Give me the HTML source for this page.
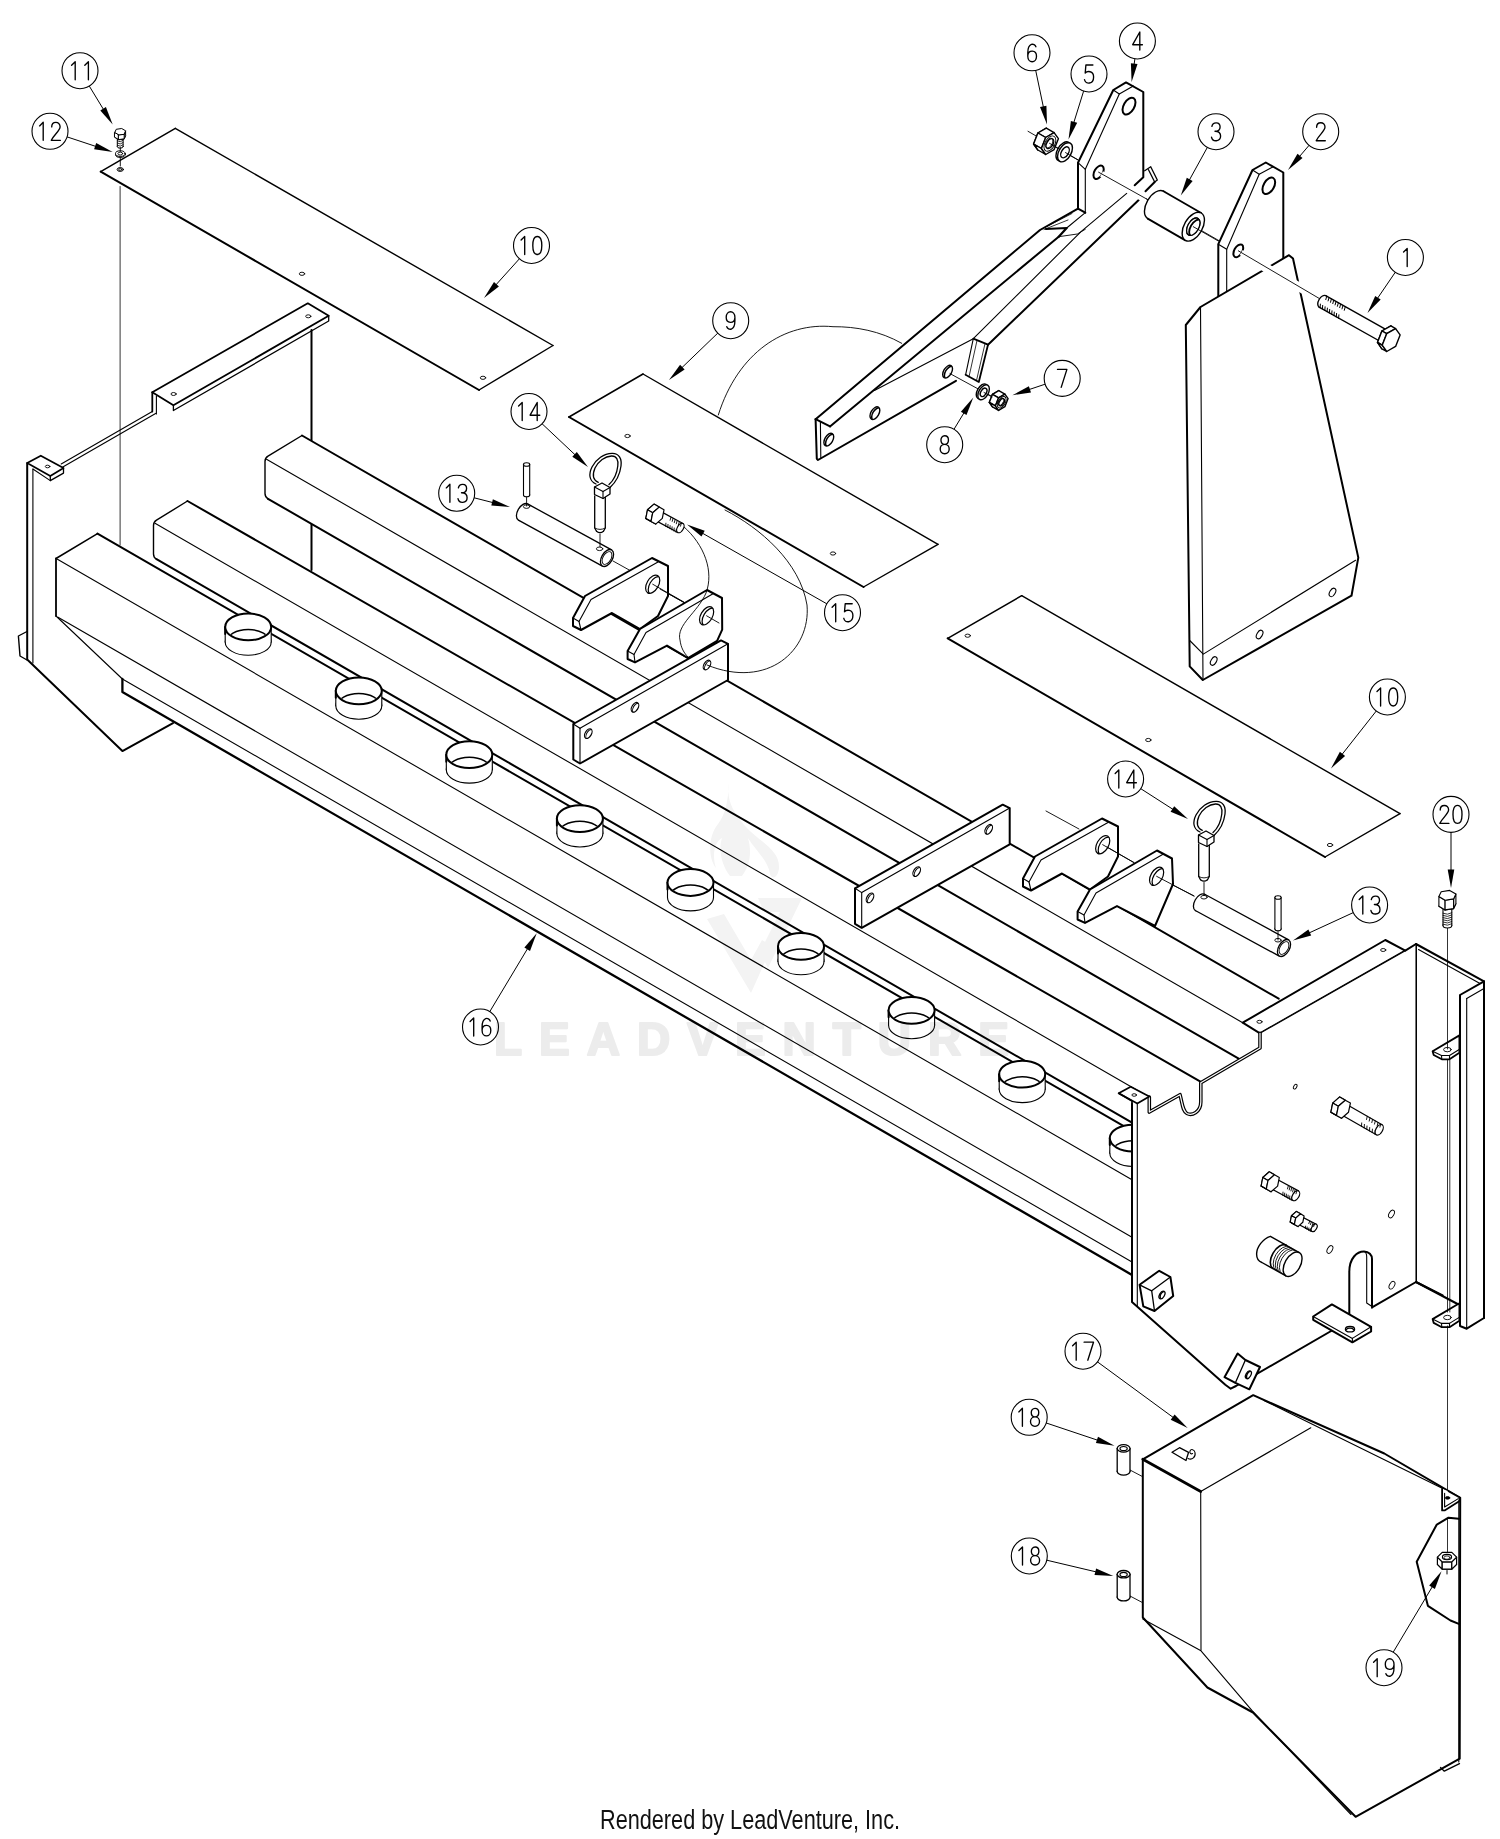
<!DOCTYPE html>
<html><head><meta charset="utf-8"><title>Parts Diagram</title>
<style>html,body{margin:0;padding:0;background:#fff}body{width:1500px;height:1839px;overflow:hidden;font-family:"Liberation Sans",sans-serif}svg{display:block}</style></head>
<body>
<svg width="1500" height="1839" viewBox="0 0 1500 1839" stroke="#000" fill="none" stroke-linecap="round" stroke-linejoin="round">
<path d="M27.2,463.1 L27.2,659.5 L122.4,751 L173,723" stroke-width="2" fill="none"/>
<path d="M32.9,469 L32.9,663" stroke-width="1.1" fill="none"/>
<path d="M27,631.5 L18.4,636 L20,656 L27,660" stroke-width="1.4" fill="none"/>
<path d="M311.5,330 L311.5,570" stroke-width="2" fill="none"/>
<path d="M61.2,464 L152.3,411.5" stroke-width="1.1" fill="none"/>
<path d="M62.8,466.9 L155.6,413.4" stroke-width="1.1" fill="none"/>
<path d="M152.3,392.2 L307.8,303.3 L328.7,315.8 L173.4,405.3 Z" stroke-width="1.8" fill="#fff"/>
<path d="M173.4,405.3 L173.4,410.5 L328.7,321 L328.7,315.8" stroke-width="1.3" fill="none"/>
<path d="M152.3,392.2 L152.3,411.5" stroke-width="1.8" fill="none"/>
<path d="M156.4,396 L156.4,414" stroke-width="1.1" fill="none"/>
<ellipse cx="173.6" cy="394" rx="2.6" ry="1.5" stroke-width="0.9" fill="none"/>
<ellipse cx="308.3" cy="316.3" rx="2.6" ry="1.5" stroke-width="0.9" fill="none"/>
<path d="M27.2,463.1 L40.8,455.7 L63.5,468.1 L50.3,476 Z" stroke-width="1.7" fill="#fff"/>
<path d="M50.3,476 L50.3,480.6 L63.5,473.1 L63.5,468.1" stroke-width="1.3" fill="none"/>
<path d="M32.9,469 L50.3,480.6" stroke-width="1.1" fill="none"/>
<ellipse cx="47.6" cy="466.5" rx="2.3" ry="1.3" stroke-width="0.9" fill="none"/>
<path d="M120.1,186.5 L120.1,545" stroke-width="0.8" fill="none"/>
<path d="M302,435.5 L1278.7,998.7 L1242.7,1022.7 L1238.7,1058.7 L265,497 L265,458 Z" stroke="none" fill="#fff"/>
<path d="M1278.7,998.7 L302,435.5" stroke-width="2" fill="none"/>
<path d="M268,498.8 L1238.7,1058.7" stroke-width="2" fill="none"/>
<path d="M302,435.5 L268,456.2 Q265,458 265,461.5 L265,493.5 Q265,497 268,498.8" stroke-width="1.4" fill="none"/>
<path d="M266.5,459.2 L1242.7,1022.7" stroke-width="1.1" fill="none"/>
<path d="M613,561 L640,576" stroke-width="0.9" fill="none"/>
<path d="M660,589 L692,607" stroke-width="0.9" fill="none"/>
<path d="M1046,811 L1079,829" stroke-width="0.9" fill="none"/>
<path d="M1159,878 L1194,896" stroke-width="0.9" fill="none"/>
<path d="M652,558 L668,566 L668,596 L658,616 L640,629 L612,613 L581,630 L573,626 L573,618 L585,596 Z" stroke-width="2" fill="#fff"/>
<path d="M658,562 L591,599.6 L579,621.5 L581,630" stroke-width="1.1" fill="none"/>
<path d="M573,618 L579,621.5" stroke-width="1.1" fill="none"/>
<ellipse cx="652.7" cy="584.2" rx="5.8" ry="10" stroke-width="1.2" fill="#fff" transform="rotate(30 652.7 584.2)"/>
<clipPath id="c30"><ellipse cx="652.7" cy="584.2" rx="5.8" ry="10" transform="rotate(30 652.7 584.2)"/></clipPath>
<g clip-path="url(#c30)"><ellipse cx="655.3" cy="585.7" rx="5.8" ry="10" stroke-width="1.2" fill="none" transform="rotate(30 655.3 585.7)"/></g>
<path d="M1102,818.5 L1118,826.5 L1118,856.5 L1108,876.5 L1090,889.5 L1062,873.5 L1031,890.5 L1023,886.5 L1023,878.5 L1035,856.5 Z" stroke-width="2" fill="#fff"/>
<path d="M1108,822.5 L1041,860.1 L1029,882 L1031,890.5" stroke-width="1.1" fill="none"/>
<path d="M1023,878.5 L1029,882" stroke-width="1.1" fill="none"/>
<ellipse cx="1102.7" cy="844.7" rx="5.8" ry="10" stroke-width="1.2" fill="#fff" transform="rotate(30 1102.7 844.7)"/>
<clipPath id="c36"><ellipse cx="1102.7" cy="844.7" rx="5.8" ry="10" transform="rotate(30 1102.7 844.7)"/></clipPath>
<g clip-path="url(#c36)"><ellipse cx="1105.3" cy="846.2" rx="5.8" ry="10" stroke-width="1.2" fill="none" transform="rotate(30 1105.3 846.2)"/></g>
<path d="M660,589 L692,607" stroke-width="0.9" fill="none"/>
<path d="M1107,847 L1134,862.6" stroke-width="0.9" fill="none"/>
<path d="M707,590 L722,598 L722.2,629.6 L717.1,640.8 L688,658 L667,645.6 L635,662.4 L627.6,659 L627.6,651 L640,629 Z" stroke-width="2" fill="#fff"/>
<path d="M713,593.7 L646,632.6 L634,654.5 L635,662.4" stroke-width="1.1" fill="none"/>
<path d="M627.6,651 L634,654.5" stroke-width="1.1" fill="none"/>
<ellipse cx="706.6" cy="615.8" rx="5.8" ry="10" stroke-width="1.2" fill="#fff" transform="rotate(30 706.6 615.8)"/>
<clipPath id="c44"><ellipse cx="706.6" cy="615.8" rx="5.8" ry="10" transform="rotate(30 706.6 615.8)"/></clipPath>
<g clip-path="url(#c44)"><ellipse cx="709.2" cy="617.3" rx="5.8" ry="10" stroke-width="1.2" fill="none" transform="rotate(30 709.2 617.3)"/></g>
<path d="M1157,850.5 L1172,858.5 L1173,884 L1155,926 L1117,906.1 L1085,922.9 L1077.6,919.5 L1077.6,911.5 L1090,889.5 Z" stroke-width="2" fill="#fff"/>
<path d="M1163,854.2 L1096,893.1 L1084,915 L1085,922.9" stroke-width="1.1" fill="none"/>
<path d="M1077.6,911.5 L1084,915" stroke-width="1.1" fill="none"/>
<ellipse cx="1156.6" cy="876.3" rx="5.8" ry="10" stroke-width="1.2" fill="#fff" transform="rotate(30 1156.6 876.3)"/>
<clipPath id="c50"><ellipse cx="1156.6" cy="876.3" rx="5.8" ry="10" transform="rotate(30 1156.6 876.3)"/></clipPath>
<g clip-path="url(#c50)"><ellipse cx="1159.2" cy="877.8" rx="5.8" ry="10" stroke-width="1.2" fill="none" transform="rotate(30 1159.2 877.8)"/></g>
<path d="M706.6,615.8 L719,623" stroke-width="0.9" fill="none"/>
<path d="M652.7,584.2 L683.5,601.8" stroke-width="0.9" fill="none"/>
<path d="M1102.7,844.7 L1134,862.6" stroke-width="0.9" fill="none"/>
<path d="M1156.6,876.3 L1194,896" stroke-width="0.9" fill="none"/>
<path d="M187.5,501 L1200,1081.3 L1149.3,1097.3 L1132,1122.7 L153.5,557.5 L153.5,522 Z" stroke="none" fill="#fff"/>
<path d="M1200,1081.3 L187.5,501" stroke-width="2" fill="none"/>
<path d="M156.5,559.2 L1132,1122.7" stroke-width="2" fill="none"/>
<path d="M187.5,501 L156.5,520.2 Q153.5,522 153.5,525.5 L153.5,554 Q153.5,557.5 156.5,559.2" stroke-width="1.4" fill="none"/>
<path d="M155,523.2 L1149.3,1097.3" stroke-width="1.1" fill="none"/>
<path d="M573.3,724 L721,640.4 L728,643.8 L728,680 L580,763.5 L573.3,759.5 Z" stroke-width="2" fill="#fff"/>
<path d="M573.3,724 L580,728.3 L728,643.8" stroke-width="1.1" fill="none"/>
<path d="M580,728.3 L580,763.5" stroke-width="1.1" fill="none"/>
<ellipse cx="588.3" cy="733.6" rx="3.1" ry="5.3" stroke-width="1.2" fill="#fff" transform="rotate(30 588.3 733.6)"/>
<clipPath id="c65"><ellipse cx="588.3" cy="733.6" rx="3.1" ry="5.3" transform="rotate(30 588.3 733.6)"/></clipPath>
<g clip-path="url(#c65)"><ellipse cx="589.7" cy="734.4" rx="3.1" ry="5.3" stroke-width="1" fill="none" transform="rotate(30 589.7 734.4)"/></g>
<ellipse cx="635" cy="707.3" rx="3.1" ry="5.3" stroke-width="1.2" fill="#fff" transform="rotate(30 635 707.3)"/>
<clipPath id="c68"><ellipse cx="635" cy="707.3" rx="3.1" ry="5.3" transform="rotate(30 635 707.3)"/></clipPath>
<g clip-path="url(#c68)"><ellipse cx="636.4" cy="708.1" rx="3.1" ry="5.3" stroke-width="1" fill="none" transform="rotate(30 636.4 708.1)"/></g>
<ellipse cx="707" cy="665" rx="3.1" ry="5.3" stroke-width="1.2" fill="#fff" transform="rotate(30 707 665)"/>
<clipPath id="c71"><ellipse cx="707" cy="665" rx="3.1" ry="5.3" transform="rotate(30 707 665)"/></clipPath>
<g clip-path="url(#c71)"><ellipse cx="708.4" cy="665.8" rx="3.1" ry="5.3" stroke-width="1" fill="none" transform="rotate(30 708.4 665.8)"/></g>
<path d="M855,888.3 L1002.7,804.7 L1009.7,808.1 L1009.7,844.3 L861.7,927.8 L855,923.8 Z" stroke-width="2" fill="#fff"/>
<path d="M855,888.3 L861.7,892.6 L1009.7,808.1" stroke-width="1.1" fill="none"/>
<path d="M861.7,892.6 L861.7,927.8" stroke-width="1.1" fill="none"/>
<ellipse cx="870" cy="897.9" rx="3.1" ry="5.3" stroke-width="1.2" fill="#fff" transform="rotate(30 870 897.9)"/>
<clipPath id="c77"><ellipse cx="870" cy="897.9" rx="3.1" ry="5.3" transform="rotate(30 870 897.9)"/></clipPath>
<g clip-path="url(#c77)"><ellipse cx="871.4" cy="898.7" rx="3.1" ry="5.3" stroke-width="1" fill="none" transform="rotate(30 871.4 898.7)"/></g>
<ellipse cx="916.7" cy="871.6" rx="3.1" ry="5.3" stroke-width="1.2" fill="#fff" transform="rotate(30 916.7 871.6)"/>
<clipPath id="c80"><ellipse cx="916.7" cy="871.6" rx="3.1" ry="5.3" transform="rotate(30 916.7 871.6)"/></clipPath>
<g clip-path="url(#c80)"><ellipse cx="918.1" cy="872.4" rx="3.1" ry="5.3" stroke-width="1" fill="none" transform="rotate(30 918.1 872.4)"/></g>
<ellipse cx="988.7" cy="829.3" rx="3.1" ry="5.3" stroke-width="1.2" fill="#fff" transform="rotate(30 988.7 829.3)"/>
<clipPath id="c83"><ellipse cx="988.7" cy="829.3" rx="3.1" ry="5.3" transform="rotate(30 988.7 829.3)"/></clipPath>
<g clip-path="url(#c83)"><ellipse cx="990.1" cy="830.1" rx="3.1" ry="5.3" stroke-width="1" fill="none" transform="rotate(30 990.1 830.1)"/></g>
<path d="M97.5,533.6 L1132,1130.9 L1132,1274.9 L122.4,692 L122.4,679 L56,616 L56,558.5 Z" stroke="none" fill="#fff"/>
<path d="M1132,1130.9 L97.5,533.6" stroke-width="2" fill="none"/>
<path d="M97.5,533.6 L56,558.5" stroke-width="1.5" fill="none"/>
<path d="M56,558.5 L56,616" stroke-width="1.8" fill="none"/>
<path d="M56,616 L122.4,679" stroke-width="1.1" fill="none"/>
<path d="M122.4,679 L122.4,692 L1132,1274.9" stroke-width="2.3" fill="none"/>
<path d="M57,559.1 L1132,1179.7" stroke-width="1.1" fill="none"/>
<path d="M58,617.2 L1132,1237.2" stroke-width="1.1" fill="none"/>
<path d="M122.4,679 L1132,1261.9" stroke-width="1.1" fill="none"/>
<ellipse cx="248.2" cy="641.9" rx="23" ry="13.4" stroke-width="1.1" fill="#fff"/>
<path d="M225.2,626.9 L271.2,626.9 L271.2,641.9 L225.2,641.9 Z" stroke="none" fill="#fff"/>
<path d="M225.2,626.9 L225.2,641.9" stroke-width="1.1" fill="none"/>
<path d="M271.2,626.9 L271.2,641.9" stroke-width="1.1" fill="none"/>
<path d="M225.2,626.9 L225.2,633.9" stroke-width="2" fill="none"/>
<ellipse cx="248.2" cy="626.9" rx="23" ry="13.4" stroke-width="2" fill="#fff"/>
<clipPath id="cy0"><ellipse cx="248.2" cy="626.9" rx="22" ry="12.4"/></clipPath>
<ellipse cx="248.2" cy="641.9" rx="21.5" ry="12.4" stroke-width="1.5" fill="none" clip-path="url(#cy0)"/>
<ellipse cx="358.8" cy="705.8" rx="23" ry="13.4" stroke-width="1.1" fill="#fff"/>
<path d="M335.8,690.8 L381.8,690.8 L381.8,705.8 L335.8,705.8 Z" stroke="none" fill="#fff"/>
<path d="M335.8,690.8 L335.8,705.8" stroke-width="1.1" fill="none"/>
<path d="M381.8,690.8 L381.8,705.8" stroke-width="1.1" fill="none"/>
<path d="M335.8,690.8 L335.8,697.8" stroke-width="2" fill="none"/>
<ellipse cx="358.8" cy="690.8" rx="23" ry="13.4" stroke-width="2" fill="#fff"/>
<clipPath id="cy1"><ellipse cx="358.8" cy="690.8" rx="22" ry="12.4"/></clipPath>
<ellipse cx="358.8" cy="705.8" rx="21.5" ry="12.4" stroke-width="1.5" fill="none" clip-path="url(#cy1)"/>
<ellipse cx="469.3" cy="769.7" rx="23" ry="13.4" stroke-width="1.1" fill="#fff"/>
<path d="M446.3,754.7 L492.3,754.7 L492.3,769.7 L446.3,769.7 Z" stroke="none" fill="#fff"/>
<path d="M446.3,754.7 L446.3,769.7" stroke-width="1.1" fill="none"/>
<path d="M492.3,754.7 L492.3,769.7" stroke-width="1.1" fill="none"/>
<path d="M446.3,754.7 L446.3,761.7" stroke-width="2" fill="none"/>
<ellipse cx="469.3" cy="754.7" rx="23" ry="13.4" stroke-width="2" fill="#fff"/>
<clipPath id="cy2"><ellipse cx="469.3" cy="754.7" rx="22" ry="12.4"/></clipPath>
<ellipse cx="469.3" cy="769.7" rx="21.5" ry="12.4" stroke-width="1.5" fill="none" clip-path="url(#cy2)"/>
<ellipse cx="579.9" cy="833.6" rx="23" ry="13.4" stroke-width="1.1" fill="#fff"/>
<path d="M556.9,818.6 L602.9,818.6 L602.9,833.6 L556.9,833.6 Z" stroke="none" fill="#fff"/>
<path d="M556.9,818.6 L556.9,833.6" stroke-width="1.1" fill="none"/>
<path d="M602.9,818.6 L602.9,833.6" stroke-width="1.1" fill="none"/>
<path d="M556.9,818.6 L556.9,825.6" stroke-width="2" fill="none"/>
<ellipse cx="579.9" cy="818.6" rx="23" ry="13.4" stroke-width="2" fill="#fff"/>
<clipPath id="cy3"><ellipse cx="579.9" cy="818.6" rx="22" ry="12.4"/></clipPath>
<ellipse cx="579.9" cy="833.6" rx="21.5" ry="12.4" stroke-width="1.5" fill="none" clip-path="url(#cy3)"/>
<ellipse cx="690.5" cy="897.5" rx="23" ry="13.4" stroke-width="1.1" fill="#fff"/>
<path d="M667.5,882.5 L713.5,882.5 L713.5,897.5 L667.5,897.5 Z" stroke="none" fill="#fff"/>
<path d="M667.5,882.5 L667.5,897.5" stroke-width="1.1" fill="none"/>
<path d="M713.5,882.5 L713.5,897.5" stroke-width="1.1" fill="none"/>
<path d="M667.5,882.5 L667.5,889.5" stroke-width="2" fill="none"/>
<ellipse cx="690.5" cy="882.5" rx="23" ry="13.4" stroke-width="2" fill="#fff"/>
<clipPath id="cy4"><ellipse cx="690.5" cy="882.5" rx="22" ry="12.4"/></clipPath>
<ellipse cx="690.5" cy="897.5" rx="21.5" ry="12.4" stroke-width="1.5" fill="none" clip-path="url(#cy4)"/>
<ellipse cx="801" cy="961.4" rx="23" ry="13.4" stroke-width="1.1" fill="#fff"/>
<path d="M778,946.4 L824,946.4 L824,961.4 L778,961.4 Z" stroke="none" fill="#fff"/>
<path d="M778,946.4 L778,961.4" stroke-width="1.1" fill="none"/>
<path d="M824,946.4 L824,961.4" stroke-width="1.1" fill="none"/>
<path d="M778,946.4 L778,953.4" stroke-width="2" fill="none"/>
<ellipse cx="801" cy="946.4" rx="23" ry="13.4" stroke-width="2" fill="#fff"/>
<clipPath id="cy5"><ellipse cx="801" cy="946.4" rx="22" ry="12.4"/></clipPath>
<ellipse cx="801" cy="961.4" rx="21.5" ry="12.4" stroke-width="1.5" fill="none" clip-path="url(#cy5)"/>
<ellipse cx="911.6" cy="1025.3" rx="23" ry="13.4" stroke-width="1.1" fill="#fff"/>
<path d="M888.6,1010.3 L934.6,1010.3 L934.6,1025.3 L888.6,1025.3 Z" stroke="none" fill="#fff"/>
<path d="M888.6,1010.3 L888.6,1025.3" stroke-width="1.1" fill="none"/>
<path d="M934.6,1010.3 L934.6,1025.3" stroke-width="1.1" fill="none"/>
<path d="M888.6,1010.3 L888.6,1017.3" stroke-width="2" fill="none"/>
<ellipse cx="911.6" cy="1010.3" rx="23" ry="13.4" stroke-width="2" fill="#fff"/>
<clipPath id="cy6"><ellipse cx="911.6" cy="1010.3" rx="22" ry="12.4"/></clipPath>
<ellipse cx="911.6" cy="1025.3" rx="21.5" ry="12.4" stroke-width="1.5" fill="none" clip-path="url(#cy6)"/>
<ellipse cx="1022.2" cy="1089.2" rx="23" ry="13.4" stroke-width="1.1" fill="#fff"/>
<path d="M999.2,1074.2 L1045.2,1074.2 L1045.2,1089.2 L999.2,1089.2 Z" stroke="none" fill="#fff"/>
<path d="M999.2,1074.2 L999.2,1089.2" stroke-width="1.1" fill="none"/>
<path d="M1045.2,1074.2 L1045.2,1089.2" stroke-width="1.1" fill="none"/>
<path d="M999.2,1074.2 L999.2,1081.2" stroke-width="2" fill="none"/>
<ellipse cx="1022.2" cy="1074.2" rx="23" ry="13.4" stroke-width="2" fill="#fff"/>
<clipPath id="cy7"><ellipse cx="1022.2" cy="1074.2" rx="22" ry="12.4"/></clipPath>
<ellipse cx="1022.2" cy="1089.2" rx="21.5" ry="12.4" stroke-width="1.5" fill="none" clip-path="url(#cy7)"/>
<ellipse cx="1132.8" cy="1153.1" rx="23" ry="13.4" stroke-width="1.1" fill="#fff"/>
<path d="M1109.8,1138.1 L1155.8,1138.1 L1155.8,1153.1 L1109.8,1153.1 Z" stroke="none" fill="#fff"/>
<path d="M1109.8,1138.1 L1109.8,1153.1" stroke-width="1.1" fill="none"/>
<path d="M1155.8,1138.1 L1155.8,1153.1" stroke-width="1.1" fill="none"/>
<path d="M1109.8,1138.1 L1109.8,1145.1" stroke-width="2" fill="none"/>
<ellipse cx="1132.8" cy="1138.1" rx="23" ry="13.4" stroke-width="2" fill="#fff"/>
<clipPath id="cy8"><ellipse cx="1132.8" cy="1138.1" rx="22" ry="12.4"/></clipPath>
<ellipse cx="1132.8" cy="1153.1" rx="21.5" ry="12.4" stroke-width="1.5" fill="none" clip-path="url(#cy8)"/>
<path d="M1416,944 L1484,981.3 L1484,1318 L1416,1282 Z" stroke-width="2" fill="#fff"/>
<path d="M1418.5,949.5 L1480,983.5" stroke-width="1.1" fill="none"/>
<path d="M1432.6,1051.2 L1459.4,1035.4 L1459.4,1052.8 L1449.5,1059.3 L1441.8,1059.3 L1433.7,1055 Z" stroke-width="1.8" fill="#fff"/>
<path d="M1432.6,1051.2 L1441.5,1055.5 L1449.5,1055.5 L1459.2,1049.5" stroke-width="1.1" fill="none"/>
<path d="M1441.5,1055.5 L1441.8,1059.3" stroke-width="1.1" fill="none"/>
<path d="M1449.5,1055.5 L1449.5,1059.3" stroke-width="1.1" fill="none"/>
<ellipse cx="1447.4" cy="1049.6" rx="3.8" ry="2.2" stroke-width="0.9" fill="none"/>
<path d="M1432.6,1319.1 L1459.4,1303.3 L1459.4,1320.7 L1449.5,1327.2 L1441.8,1327.2 L1433.7,1322.9 Z" stroke-width="1.8" fill="#fff"/>
<path d="M1432.6,1319.1 L1441.5,1323.4 L1449.5,1323.4 L1459.2,1317.4" stroke-width="1.1" fill="none"/>
<path d="M1441.5,1323.4 L1441.8,1327.2" stroke-width="1.1" fill="none"/>
<path d="M1449.5,1323.4 L1449.5,1327.2" stroke-width="1.1" fill="none"/>
<ellipse cx="1447.4" cy="1317.5" rx="3.8" ry="2.2" stroke-width="0.9" fill="none"/>
<path d="M1447.5,927 L1447.5,1049" stroke-width="0.8" fill="none"/>
<path d="M1447.5,1060 L1447.5,1312" stroke-width="0.8" fill="none"/>
<path d="M1449.8,1060 L1449.8,1312" stroke-width="0.8" fill="none"/>
<path d="M1447.5,1326 L1447.5,1494" stroke-width="0.8" fill="none"/>
<path d="M1484,981.3 L1460,995 L1460,1326 L1466.7,1328.7 L1484,1318 Z" stroke-width="2" fill="#fff"/>
<path d="M1466.7,998.5 L1466.7,1328.7" stroke-width="1.1" fill="none"/>
<path d="M1466.7,998.5 L1484,988.5" stroke-width="1.1" fill="none"/>
<path d="M1242.7,1022.7 L1385.3,940 L1405.3,950.7 L1260,1033.3 Z" stroke-width="2" fill="#fff"/>
<ellipse cx="1259.5" cy="1021.8" rx="2.6" ry="1.5" stroke-width="0.9" fill="none"/>
<ellipse cx="1383.2" cy="950" rx="2.6" ry="1.5" stroke-width="0.9" fill="none"/>
<path d="M1132,1104 L1132,1302 L1225.3,1384.7 L1230.7,1388.7 L1236,1386 L1416,1282 L1416,944 L1405.3,950.7 L1260,1033.3 L1260,1048 L1200.8,1082.7 L1200.8,1104 L1198,1110.5 L1191,1114.5 L1185,1112 L1182.3,1106 L1180,1094.7 L1149.3,1112 L1149.3,1097 Z" stroke="none" fill="#fff"/>
<path d="M1132,1104 L1132,1302 L1225.3,1384.7 L1230.7,1388.7 L1236,1386 L1349.3,1320.5" stroke-width="2" fill="none"/>
<path d="M1372,1307.4 L1416,1282" stroke-width="2" fill="none"/>
<path d="M1137.3,1104 L1137.3,1306.5" stroke-width="1.1" fill="none"/>
<path d="M1416,1282 L1416,944" stroke-width="1.1" fill="none"/>
<path d="M1416,944 L1405.3,950.7" stroke-width="2" fill="none"/>
<path d="M1405.3,950.7 L1260,1033.3" stroke-width="1.1" fill="none"/>
<path d="M1260,1033.3 L1260,1048 L1200.8,1082.7 L1200.8,1102 C1200.8,1112 1192,1116 1187,1113.5 C1182.5,1111 1182.5,1104 1180,1094.7 L1149.3,1112 L1149.3,1097" stroke-width="3.6" fill="none"/>
<path d="M1260,1033.3 L1260,1048 L1200.8,1082.7 L1200.8,1102 C1200.8,1112 1192,1116 1187,1113.5 C1182.5,1111 1182.5,1104 1180,1094.7 L1149.3,1112 L1149.3,1097" stroke-width="1.2" fill="none" stroke="#fff"/>
<path d="M1416,1282 L1442.7,1295.3" stroke-width="2" fill="none"/>
<path d="M1118.7,1093.3 L1130.7,1086.7 L1149.3,1096.5 L1137.3,1103.5 Z" stroke-width="1.7" fill="#fff"/>
<path d="M1118.7,1093.3 L1132,1101 L1132,1106" stroke-width="1.7" fill="none"/>
<ellipse cx="1134.2" cy="1095" rx="2.3" ry="1.3" stroke-width="0.9" fill="none"/>
<path d="M1349.3,1320.5 L1349.3,1272 C1349.3,1258 1357,1251.5 1364,1251.5 C1369,1251.5 1372,1255 1372,1259 L1372,1307.4" stroke-width="2" fill="#fff"/>
<path d="M1364,1251.5 C1366,1252 1366.7,1254 1366.7,1257 L1366.7,1303 L1372,1306.5" stroke-width="1.1" fill="none"/>
<ellipse cx="1295.2" cy="1086.7" rx="1.5" ry="2.6" stroke-width="0.9" fill="none" transform="rotate(30 1295.2 1086.7)"/>
<ellipse cx="1391.5" cy="1214" rx="2.4" ry="4.2" stroke-width="0.9" fill="none" transform="rotate(30 1391.5 1214)"/>
<ellipse cx="1329.9" cy="1249.5" rx="2.4" ry="4.2" stroke-width="0.9" fill="none" transform="rotate(30 1329.9 1249.5)"/>
<ellipse cx="1392" cy="1285.2" rx="2.4" ry="4.2" stroke-width="0.9" fill="none" transform="rotate(30 1392 1285.2)"/>
<path d="M1313.2,1316.5 L1331.9,1304.4 L1371.1,1326.8 L1371.1,1331.5 L1352.4,1342.3 L1313.2,1319.8 Z" stroke-width="2" fill="#fff"/>
<path d="M1313.2,1316.5 L1352.4,1338.4 L1371.1,1326.8" stroke-width="1.1" fill="none"/>
<path d="M1352.4,1338.4 L1352.4,1342.3" stroke-width="1.1" fill="none"/>
<ellipse cx="1350" cy="1329.2" rx="4.6" ry="2.7" stroke-width="1.3" fill="none"/>
<path d="M1346.2,1329.6 C1347.5,1327.6 1352.5,1327.6 1353.8,1329.8" stroke-width="1.4" fill="none"/>
<path d="M1139.6,1284.8 L1159.2,1270.8 L1170.4,1277 L1173.2,1296 L1154.5,1311 L1143.3,1306.3 Z" stroke-width="2" fill="#fff"/>
<path d="M1139.6,1284.8 L1151.7,1290.8 L1170.4,1277" stroke-width="1.3" fill="none"/>
<path d="M1151.7,1290.8 L1154.5,1311" stroke-width="1.3" fill="none"/>
<ellipse cx="1162" cy="1295" rx="2.4" ry="4.2" stroke-width="1.3" fill="none" transform="rotate(30 1162 1295)"/>
<path d="M1160.3,1298 C1159.5,1295.5 1161.5,1292 1163.6,1291.6" stroke-width="1.4" fill="none"/>
<path d="M1237.6,1353.5 L1245.4,1360 L1260,1367 L1249.4,1389.3 L1235.4,1382.8 L1224.5,1377.2 Z" stroke-width="2" fill="#fff"/>
<path d="M1245.4,1360 L1235.4,1382.8" stroke-width="1.3" fill="none"/>
<ellipse cx="1248.4" cy="1374.8" rx="2.4" ry="4.2" stroke-width="1.3" fill="none" transform="rotate(30 1248.4 1374.8)"/>
<path d="M1246.7,1377.8 C1245.9,1375.3 1247.9,1371.8 1250,1371.4" stroke-width="1.4" fill="none"/>
<ellipse cx="1343.4" cy="1109.2" rx="3.3" ry="5.8" stroke-width="1.2" fill="#fff" transform="rotate(30 1343.4 1109.2)"/>
<path d="M1346.3,1104.2 L1382.1,1124.8 L1376.3,1134.8 L1340.5,1114.3 Z" stroke="none" fill="#fff"/>
<path d="M1346.3,1104.2 L1382.1,1124.8" stroke-width="1.2" fill="none"/>
<path d="M1340.5,1114.3 L1376.3,1134.8" stroke-width="1.2" fill="none"/>
<ellipse cx="1379.2" cy="1129.8" rx="3.3" ry="5.8" stroke-width="1.2" fill="#fff" transform="rotate(30 1379.2 1129.8)"/>
<path d="M1380.7,1124.1 L1379.9,1127.2" stroke-width="0.9" fill="none"/>
<path d="M1374.9,1134.1 L1375.1,1130.6" stroke-width="0.9" fill="none"/>
<path d="M1378,1122.5 L1377.2,1125.7" stroke-width="0.9" fill="none"/>
<path d="M1372.2,1132.6 L1372.4,1129.1" stroke-width="0.9" fill="none"/>
<path d="M1375.3,1121 L1374.5,1124.1" stroke-width="0.9" fill="none"/>
<path d="M1369.5,1131 L1369.7,1127.5" stroke-width="0.9" fill="none"/>
<path d="M1372.6,1119.4 L1371.8,1122.6" stroke-width="0.9" fill="none"/>
<path d="M1366.8,1129.5 L1367,1126" stroke-width="0.9" fill="none"/>
<path d="M1370,1117.9 L1369.2,1121.1" stroke-width="0.9" fill="none"/>
<path d="M1364.2,1127.9 L1364.4,1124.4" stroke-width="0.9" fill="none"/>
<path d="M1367.3,1116.3 L1366.5,1119.5" stroke-width="0.9" fill="none"/>
<path d="M1361.5,1126.4 L1361.7,1122.9" stroke-width="0.9" fill="none"/>
<path d="M1344.7,1099.8 L1339.7,1096.9 L1332.7,1103.1 L1330.9,1112.2 L1335.9,1115.1 L1342.9,1108.9 Z" stroke-width="1.2" fill="#fff"/>
<path d="M1339.7,1096.9 L1332.7,1103.1 L1338.3,1106.3 L1345.3,1100.2 Z" stroke-width="1.2" fill="#fff"/>
<path d="M1332.7,1103.1 L1330.9,1112.2 L1336.5,1115.4 L1338.3,1106.3 Z" stroke-width="1.2" fill="#fff"/>
<path d="M1330.9,1112.2 L1335.9,1115.1 L1341.6,1118.3 L1336.5,1115.4 Z" stroke-width="1.2" fill="#fff"/>
<path d="M1350.4,1103.1 L1345.3,1100.2 L1338.3,1106.3 L1336.5,1115.4 L1341.6,1118.3 L1348.5,1112.2 Z" stroke-width="1.2" fill="#fff"/>
<ellipse cx="1272.8" cy="1183.3" rx="3.2" ry="5.5" stroke-width="1.2" fill="#fff" transform="rotate(30 1272.8 1183.3)"/>
<path d="M1275.5,1178.5 L1298.5,1190.9 L1293,1200.5 L1270,1188.1 Z" stroke="none" fill="#fff"/>
<path d="M1275.5,1178.5 L1298.5,1190.9" stroke-width="1.2" fill="none"/>
<path d="M1270,1188.1 L1293,1200.5" stroke-width="1.2" fill="none"/>
<ellipse cx="1295.8" cy="1195.7" rx="3.2" ry="5.5" stroke-width="1.2" fill="#fff" transform="rotate(30 1295.8 1195.7)"/>
<path d="M1296.8,1190.8 L1296,1193.8" stroke-width="0.9" fill="none"/>
<path d="M1291.3,1200.3 L1291.5,1197" stroke-width="0.9" fill="none"/>
<path d="M1295.1,1189.8 L1294.3,1192.8" stroke-width="0.9" fill="none"/>
<path d="M1289.6,1199.3 L1289.8,1196" stroke-width="0.9" fill="none"/>
<path d="M1293.4,1188.8 L1292.6,1191.9" stroke-width="0.9" fill="none"/>
<path d="M1287.9,1198.4 L1288.1,1195.1" stroke-width="0.9" fill="none"/>
<path d="M1291.7,1187.9 L1290.9,1190.9" stroke-width="0.9" fill="none"/>
<path d="M1286.2,1197.4 L1286.4,1194.1" stroke-width="0.9" fill="none"/>
<path d="M1290,1186.9 L1289.2,1189.9" stroke-width="0.9" fill="none"/>
<path d="M1284.5,1196.4 L1284.7,1193.1" stroke-width="0.9" fill="none"/>
<path d="M1288.3,1185.9 L1287.5,1188.9" stroke-width="0.9" fill="none"/>
<path d="M1282.8,1195.4 L1283,1192.1" stroke-width="0.9" fill="none"/>
<path d="M1274.1,1174.5 L1269.3,1171.8 L1262.8,1177.5 L1261.1,1186.1 L1265.9,1188.8 L1272.4,1183.1 Z" stroke-width="1.2" fill="#fff"/>
<path d="M1269.3,1171.8 L1262.8,1177.5 L1268,1180.5 L1274.5,1174.8 Z" stroke-width="1.2" fill="#fff"/>
<path d="M1262.8,1177.5 L1261.1,1186.1 L1266.3,1189.1 L1268,1180.5 Z" stroke-width="1.2" fill="#fff"/>
<path d="M1261.1,1186.1 L1265.9,1188.8 L1271,1191.8 L1266.3,1189.1 Z" stroke-width="1.2" fill="#fff"/>
<path d="M1279.3,1177.5 L1274.5,1174.8 L1268,1180.5 L1266.3,1189.1 L1271,1191.8 L1277.6,1186.1 Z" stroke-width="1.2" fill="#fff"/>
<ellipse cx="1299.3" cy="1220.2" rx="2.4" ry="4.2" stroke-width="1.2" fill="#fff" transform="rotate(30 1299.3 1220.2)"/>
<path d="M1301.4,1216.6 L1316.3,1224.2 L1312.1,1231.4 L1297.2,1223.8 Z" stroke="none" fill="#fff"/>
<path d="M1301.4,1216.6 L1316.3,1224.2" stroke-width="1.2" fill="none"/>
<path d="M1297.2,1223.8 L1312.1,1231.4" stroke-width="1.2" fill="none"/>
<ellipse cx="1314.2" cy="1227.8" rx="2.4" ry="4.2" stroke-width="1.2" fill="#fff" transform="rotate(30 1314.2 1227.8)"/>
<path d="M1314.5,1224.1 L1313.7,1226.5" stroke-width="0.9" fill="none"/>
<path d="M1310.3,1231.4 L1310.5,1228.9" stroke-width="0.9" fill="none"/>
<path d="M1312.9,1223.2 L1312.1,1225.5" stroke-width="0.9" fill="none"/>
<path d="M1308.7,1230.5 L1308.9,1228" stroke-width="0.9" fill="none"/>
<path d="M1311.2,1222.3 L1310.4,1224.6" stroke-width="0.9" fill="none"/>
<path d="M1307,1229.5 L1307.2,1227" stroke-width="0.9" fill="none"/>
<path d="M1309.6,1221.3 L1308.8,1223.6" stroke-width="0.9" fill="none"/>
<path d="M1305.4,1228.6 L1305.6,1226.1" stroke-width="0.9" fill="none"/>
<path d="M1300,1213.5 L1296.4,1211.4 L1291.5,1215.7 L1290.2,1222.1 L1293.8,1224.2 L1298.7,1219.9 Z" stroke-width="1.2" fill="#fff"/>
<path d="M1296.4,1211.4 L1291.5,1215.7 L1295.7,1218.1 L1300.6,1213.8 Z" stroke-width="1.2" fill="#fff"/>
<path d="M1291.5,1215.7 L1290.2,1222.1 L1294.4,1224.5 L1295.7,1218.1 Z" stroke-width="1.2" fill="#fff"/>
<path d="M1290.2,1222.1 L1293.8,1224.2 L1298,1226.6 L1294.4,1224.5 Z" stroke-width="1.2" fill="#fff"/>
<path d="M1304.1,1215.9 L1300.6,1213.8 L1295.7,1218.1 L1294.4,1224.5 L1298,1226.6 L1302.8,1222.3 Z" stroke-width="1.2" fill="#fff"/>
<path d="M1270.4,1236.3 L1299.3,1252.7 L1285.9,1275.9 L1261.9,1262.5 C1259,1261.5 1256.6,1259 1256.6,1254 C1256.6,1247 1263,1238.5 1270.4,1236.3 Z" stroke-width="1.4" fill="#fff"/>
<path d="M1286.3,1245.2 A7.7,13.4 30 0 0 1272.9,1268.4" stroke-width="1.6" fill="none"/>
<path d="M1289.1,1246.8 A7.7,13.4 30 0 0 1275.7,1270" stroke-width="0.9" fill="none"/>
<path d="M1291.2,1248 A7.7,13.4 30 0 0 1277.8,1271.2" stroke-width="0.9" fill="none"/>
<path d="M1293.2,1249.2 A7.7,13.4 30 0 0 1279.8,1272.4" stroke-width="0.9" fill="none"/>
<path d="M1295.3,1250.4 A7.7,13.4 30 0 0 1281.9,1273.6" stroke-width="0.9" fill="none"/>
<ellipse cx="1292.6" cy="1264.3" rx="7.7" ry="13.4" stroke-width="1.4" fill="#fff" transform="rotate(30 1292.6 1264.3)"/>
<path d="M1130,1470 L1142.7,1476.7" stroke-width="0.9" fill="none"/>
<path d="M1130,1596 L1142.7,1602.7" stroke-width="0.9" fill="none"/>
<path d="M1142.8,1459.3 L1253.2,1395.2 L1384.3,1453.5 L1460.2,1497.8 L1459.7,1758.7 L1355.6,1816.8 L1253,1712.5 L1207.4,1687.5 L1142.8,1617.5 Z" stroke-width="2" fill="#fff"/>
<path d="M1142.8,1459.3 L1200.7,1491.5" stroke-width="2.8" fill="none"/>
<path d="M1200.7,1491.5 L1310.8,1427.8" stroke-width="1.1" fill="none"/>
<path d="M1264,1400.5 L1442.7,1488.5" stroke-width="1.1" fill="none"/>
<path d="M1200.7,1491.5 L1201,1650" stroke-width="1.1" fill="none"/>
<path d="M1142.8,1619 L1201,1650.8 L1252.5,1711.2 L1351,1814.5" stroke-width="1.1" fill="none"/>
<path d="M1442.1,1488.9 L1442.1,1510.4 L1444.6,1510.4 L1458.8,1501.6 L1460.2,1497.7 L1448.5,1491.3" stroke-width="1.8" fill="#fff"/>
<path d="M1444.6,1493.3 L1444.6,1507 L1458.3,1498.6" stroke-width="1.1" fill="none"/>
<ellipse cx="1447.6" cy="1497.9" rx="2.2" ry="1.3" stroke-width="0.8" fill="#000"/>
<path d="M1458.8,1518.7 L1448.5,1517.7 L1436.8,1524.6 L1416.7,1561.8 L1427.9,1605.8 L1450.5,1620.5 L1458.8,1623.9" stroke-width="2" fill="#fff"/>
<path d="M1447.5,1518.8 L1447.5,1553" stroke-width="0.8" fill="none"/>
<path d="M1458.8,1501.6 L1458.8,1762" stroke-width="1.1" fill="none"/>
<path d="M1456.6,1564.3 L1451.8,1559.5 L1442.2,1559.5 L1437.4,1564.3 L1442.2,1569.1 L1451.8,1569.1 Z" stroke-width="1.2" fill="#fff"/>
<path d="M1437.4,1564.3 L1442.2,1569.1 L1442.2,1561.9 L1437.4,1557.1 Z" stroke-width="1.2" fill="#fff"/>
<path d="M1442.2,1569.1 L1451.8,1569.1 L1451.8,1561.9 L1442.2,1561.9 Z" stroke-width="1.2" fill="#fff"/>
<path d="M1451.8,1569.1 L1456.6,1564.3 L1456.6,1557.1 L1451.8,1561.9 Z" stroke-width="1.2" fill="#fff"/>
<path d="M1456.6,1557.1 L1451.8,1552.3 L1442.2,1552.3 L1437.4,1557.1 L1442.2,1561.9 L1451.8,1561.9 Z" stroke-width="1.2" fill="#fff"/>
<ellipse cx="1447" cy="1557.1" rx="4.6" ry="2.7" stroke-width="1.1" fill="none"/>
<ellipse cx="1447" cy="1557.6" rx="3" ry="1.7" stroke-width="0.8" fill="none"/>
<path d="M1447,1570.5 L1447,1574" stroke-width="1" fill="none"/>
<path d="M1440.5,1767.4 L1444.3,1771.2 L1459.5,1763.6" stroke-width="1.3" fill="none"/>
<path d="M1172,1452.3 L1186,1460.5 L1188.6,1452.3 L1179.5,1447.7 Z" stroke-width="1.3" fill="#fff"/>
<path d="M1188,1458.5 C1192,1460.5 1196,1457 1195,1452.5 C1194.5,1449.5 1191,1448.5 1190,1451 C1189.3,1453 1191,1454.5 1192.5,1453.5" stroke-width="1.1" fill="none"/>
<ellipse cx="1123.6" cy="1471.4" rx="6.4" ry="3.7" stroke-width="1.3" fill="#fff"/>
<path d="M1117.2,1448.4 L1130,1448.4 L1130,1471.4 L1117.2,1471.4 Z" stroke="none" fill="#fff"/>
<path d="M1117.2,1448.4 L1117.2,1471.4" stroke-width="1.3" fill="none"/>
<path d="M1130,1448.4 L1130,1471.4" stroke-width="1.3" fill="none"/>
<ellipse cx="1123.6" cy="1448.4" rx="6.4" ry="3.7" stroke-width="1.3" fill="#fff"/>
<ellipse cx="1123.6" cy="1448.6" rx="3.6" ry="2.1" stroke-width="1.2" fill="none"/>
<ellipse cx="1123.6" cy="1597.2" rx="6.4" ry="3.7" stroke-width="1.3" fill="#fff"/>
<path d="M1117.2,1574.2 L1130,1574.2 L1130,1597.2 L1117.2,1597.2 Z" stroke="none" fill="#fff"/>
<path d="M1117.2,1574.2 L1117.2,1597.2" stroke-width="1.3" fill="none"/>
<path d="M1130,1574.2 L1130,1597.2" stroke-width="1.3" fill="none"/>
<ellipse cx="1123.6" cy="1574.2" rx="6.4" ry="3.7" stroke-width="1.3" fill="#fff"/>
<ellipse cx="1123.6" cy="1574.4" rx="3.6" ry="2.1" stroke-width="1.2" fill="none"/>
<path d="M901.7,343.3 C880,331 856,326.5 833,326.7 C785,322 738,352 718.3,415" stroke-width="0.9" fill="none"/>
<path d="M725,510 C760,528 800,562 807,605 C811,650 768,690 707,665" stroke-width="0.9" fill="none"/>
<path d="M683,526 C705,545 714,572 706,593 C698,612 676,625 680,640 C681,648 684,653 688,657" stroke-width="0.9" fill="none"/>
<path d="M643,374 L938,544.3 L863.5,587 L569,417 Z" stroke="none" fill="#fff"/>
<path d="M569,417 L863.5,587" stroke-width="2" fill="none"/>
<path d="M569,417 L643,374" stroke-width="1.5" fill="none"/>
<path d="M643,374 L938,544.3" stroke-width="1.4" fill="none"/>
<path d="M938,544.3 L863.5,587" stroke-width="1.4" fill="none"/>
<ellipse cx="627.5" cy="436" rx="2.7" ry="1.6" stroke-width="0.9" fill="none"/>
<ellipse cx="833" cy="553.5" rx="2.7" ry="1.6" stroke-width="0.9" fill="none"/>
<path d="M175.3,128.4 L553,345.5 L479,390 L100.7,171.6 Z" stroke="none" fill="#fff"/>
<path d="M100.7,171.6 L479,390" stroke-width="2" fill="none"/>
<path d="M100.7,171.6 L175.3,128.4" stroke-width="1.5" fill="none"/>
<path d="M175.3,128.4 L553,345.5" stroke-width="1.4" fill="none"/>
<path d="M553,345.5 L479,390" stroke-width="1.4" fill="none"/>
<ellipse cx="120.3" cy="169.5" rx="2.7" ry="1.6" stroke-width="0.9" fill="none"/>
<ellipse cx="302" cy="273.8" rx="2.7" ry="1.6" stroke-width="0.9" fill="none"/>
<ellipse cx="483" cy="377.8" rx="2.7" ry="1.6" stroke-width="0.9" fill="none"/>
<path d="M1021.7,595.7 L1400,813.6 L1325,857 L947.7,638.3 Z" stroke="none" fill="#fff"/>
<path d="M947.7,638.3 L1325,857" stroke-width="2" fill="none"/>
<path d="M947.7,638.3 L1021.7,595.7" stroke-width="1.5" fill="none"/>
<path d="M1021.7,595.7 L1400,813.6" stroke-width="1.4" fill="none"/>
<path d="M1400,813.6 L1325,857" stroke-width="1.4" fill="none"/>
<ellipse cx="967.7" cy="635.7" rx="2.7" ry="1.6" stroke-width="0.9" fill="none"/>
<ellipse cx="1148.3" cy="740" rx="2.7" ry="1.6" stroke-width="0.9" fill="none"/>
<ellipse cx="1330" cy="845" rx="2.7" ry="1.6" stroke-width="0.9" fill="none"/>
<path d="M1028,131.3 L1078,160" stroke-width="0.9" fill="none"/>
<path d="M1098.7,171.3 L1240,252.8" stroke-width="0.9" fill="none"/>
<path d="M815.6,419.2 L1040,230 L1078,208.7 L1078,162.7 L1113.3,90 L1126,82.4 L1143.3,92 L1143.3,177.3 L1138.7,200 L988,344.7 L978.8,382 L965.6,374.8 L956,380.8 L818,460 L816.8,458.8 Z" stroke="none" fill="#fff"/>
<path d="M1078,208.7 L1078,162.7 L1113.3,90 L1126,82.4 L1143.3,92 L1143.3,177.3 L1134.7,185.3" stroke-width="2" fill="none"/>
<path d="M1113.3,90 L1119.3,94 L1133.3,86" stroke-width="1.1" fill="none"/>
<path d="M1119.3,94 L1085.3,169.3 L1085.3,212.7" stroke-width="1.1" fill="none"/>
<path d="M1078,162.7 L1085.3,169.3" stroke-width="1.1" fill="none"/>
<path d="M1078,208.7 L1085.3,212.7" stroke-width="2" fill="none"/>
<ellipse cx="1129" cy="106.1" rx="5.3" ry="9.2" stroke-width="2" fill="#fff" transform="rotate(30 1129 106.1)"/>
<ellipse cx="1098.6" cy="172.2" rx="4.2" ry="7.3" stroke-width="2" fill="#fff" transform="rotate(30 1098.6 172.2)"/>
<path d="M1144.7,170.7 L1150.7,166.7 L1157.3,180 L1154.7,182 L1148.5,169.8" stroke-width="1.3" fill="none"/>
<path d="M815.6,419.2 L1040,230 L1078,208.7" stroke-width="2" fill="none"/>
<path d="M830,426.4 L1058.7,236.7" stroke-width="2" fill="none"/>
<path d="M1046,229 L1066.7,228 L1058.7,236.7" stroke-width="2.2" fill="none"/>
<path d="M1040,230 L1072,213.5" stroke-width="0.8" fill="none"/>
<path d="M1044,229.5 L1068,220" stroke-width="0.8" fill="none"/>
<path d="M1085.3,212.7 L1066.7,228" stroke-width="1.1" fill="none"/>
<path d="M1058.7,236.7 L1077.3,234 L1085.3,229.3" stroke-width="0.9" fill="none"/>
<path d="M874.4,390.4 L973.3,338.7 L1081.3,231.3 L1126.7,193.3" stroke-width="1.1" fill="none"/>
<path d="M988,344.7 L1138.7,200" stroke-width="2" fill="none"/>
<path d="M1145.5,191.3 L1154.7,182" stroke-width="2" fill="none"/>
<path d="M815.6,419.2 L830,426.4" stroke-width="2" fill="none"/>
<path d="M815.6,419.2 L816.8,458.8 L818,460 L956,380.8" stroke-width="2" fill="none"/>
<path d="M820.4,422 L820.8,457.5" stroke-width="1.1" fill="none"/>
<path d="M973.3,338.7 L988,344.7 L978.8,382 L965.6,374.8" stroke-width="1.8" fill="none"/>
<path d="M973.3,338.7 L965.6,374.8" stroke-width="1.1" fill="none"/>
<path d="M977,340.5 L969,376.8" stroke-width="0.8" fill="none"/>
<path d="M985,343.7 L976.5,380.5" stroke-width="0.8" fill="none"/>
<ellipse cx="828.8" cy="439.6" rx="4" ry="7" stroke-width="1.4" fill="#fff" transform="rotate(30 828.8 439.6)"/>
<clipPath id="c382"><ellipse cx="828.8" cy="439.6" rx="4" ry="7" transform="rotate(30 828.8 439.6)"/></clipPath>
<g clip-path="url(#c382)"><ellipse cx="830.5" cy="440.6" rx="4" ry="7" stroke-width="1.5" fill="none" transform="rotate(30 830.5 440.6)"/></g>
<ellipse cx="874.9" cy="413.2" rx="4" ry="7" stroke-width="1.4" fill="#fff" transform="rotate(30 874.9 413.2)"/>
<clipPath id="c385"><ellipse cx="874.9" cy="413.2" rx="4" ry="7" transform="rotate(30 874.9 413.2)"/></clipPath>
<g clip-path="url(#c385)"><ellipse cx="876.6" cy="414.2" rx="4" ry="7" stroke-width="1.5" fill="none" transform="rotate(30 876.6 414.2)"/></g>
<ellipse cx="947.6" cy="371.7" rx="4" ry="7" stroke-width="1.4" fill="#fff" transform="rotate(30 947.6 371.7)"/>
<clipPath id="c388"><ellipse cx="947.6" cy="371.7" rx="4" ry="7" transform="rotate(30 947.6 371.7)"/></clipPath>
<g clip-path="url(#c388)"><ellipse cx="949.3" cy="372.7" rx="4" ry="7" stroke-width="1.5" fill="none" transform="rotate(30 949.3 372.7)"/></g>
<path d="M1101.5,173.9 L1146,198.6" stroke-width="6" fill="none" stroke="#fff" stroke-linecap="butt"/>
<path d="M1120,183.6 L1146,198.6" stroke-width="9" fill="none" stroke="#fff" stroke-linecap="butt"/>
<path d="M1098.6,172.2 L1147,199.2" stroke-width="0.9" fill="none"/>
<path d="M950,373.6 L1004,403" stroke-width="0.9" fill="none"/>
<path d="M1050.6,134.2 L1046.3,128.1 L1037.9,133 L1033.6,144 L1037.9,150 L1046.3,145.1 Z" stroke-width="1.4" fill="#fff"/>
<path d="M1046.3,128.1 L1037.9,133 L1045.7,137.5 L1054.1,132.6 Z" stroke-width="1.4" fill="#fff"/>
<path d="M1037.9,133 L1033.6,144 L1041.4,148.5 L1045.7,137.5 Z" stroke-width="1.4" fill="#fff"/>
<path d="M1033.6,144 L1037.9,150 L1045.7,154.5 L1041.4,148.5 Z" stroke-width="1.4" fill="#fff"/>
<path d="M1058.4,138.7 L1054.1,132.6 L1045.7,137.5 L1041.4,148.5 L1045.7,154.5 L1054.1,149.6 Z" stroke-width="1.4" fill="#fff"/>
<ellipse cx="1049.9" cy="143.6" rx="4.9" ry="8.4" stroke-width="0.9" fill="none" transform="rotate(30 1049.9 143.6)"/>
<ellipse cx="1049.9" cy="143.6" rx="3.1" ry="5.4" stroke-width="1.4" fill="none" transform="rotate(30 1049.9 143.6)"/>
<ellipse cx="1049.1" cy="143.1" rx="3.1" ry="5.4" stroke-width="0.8" fill="none" transform="rotate(30 1049.1 143.1)"/>
<ellipse cx="1063.4" cy="151.4" rx="6.1" ry="10.5" stroke-width="1.4" fill="#fff" transform="rotate(30 1063.4 151.4)"/>
<ellipse cx="1065" cy="152.3" rx="6.1" ry="10.5" stroke-width="1.4" fill="#fff" transform="rotate(30 1065 152.3)"/>
<ellipse cx="1065" cy="152.3" rx="3.5" ry="6" stroke-width="1.4" fill="#fff" transform="rotate(30 1065 152.3)"/>
<path d="M1049.5,143.3 L1060,149.3" stroke-width="0.9" fill="none"/>
<path d="M1065.5,152.6 L1078,159.8" stroke-width="0.9" fill="none"/>
<ellipse cx="982" cy="391.4" rx="4.7" ry="8.2" stroke-width="1.4" fill="#fff" transform="rotate(30 982 391.4)"/>
<ellipse cx="983.6" cy="392.3" rx="4.7" ry="8.2" stroke-width="1.4" fill="#fff" transform="rotate(30 983.6 392.3)"/>
<ellipse cx="983.6" cy="392.3" rx="2.7" ry="4.6" stroke-width="1.4" fill="#fff" transform="rotate(30 983.6 392.3)"/>
<path d="M1002,395.1 L998.8,390.6 L992.5,394.3 L989.3,402.4 L992.5,406.9 L998.8,403.2 Z" stroke-width="1.4" fill="#fff"/>
<path d="M998.8,390.6 L992.5,394.3 L998.6,397.8 L1004.9,394.1 Z" stroke-width="1.4" fill="#fff"/>
<path d="M992.5,394.3 L989.3,402.4 L995.4,405.9 L998.6,397.8 Z" stroke-width="1.4" fill="#fff"/>
<path d="M989.3,402.4 L992.5,406.9 L998.6,410.4 L995.4,405.9 Z" stroke-width="1.4" fill="#fff"/>
<path d="M1008.1,398.6 L1004.9,394.1 L998.6,397.8 L995.4,405.9 L998.6,410.4 L1004.9,406.7 Z" stroke-width="1.4" fill="#fff"/>
<ellipse cx="1001.7" cy="402.2" rx="3.6" ry="6.3" stroke-width="0.9" fill="none" transform="rotate(30 1001.7 402.2)"/>
<ellipse cx="1001.7" cy="402.2" rx="2.3" ry="4" stroke-width="1.4" fill="none" transform="rotate(30 1001.7 402.2)"/>
<ellipse cx="1000.9" cy="401.8" rx="2.3" ry="4" stroke-width="0.8" fill="none" transform="rotate(30 1000.9 401.8)"/>
<path d="M984,392.5 L992,397" stroke-width="0.9" fill="none"/>
<ellipse cx="1155.6" cy="204.9" rx="9.1" ry="15.8" stroke-width="1.4" fill="#fff" transform="rotate(30 1155.6 204.9)"/>
<path d="M1163.5,191.2 L1201.2,213 L1185.4,240.4 L1147.7,218.6 Z" stroke="none" fill="#fff"/>
<path d="M1163.5,191.2 L1201.2,213" stroke-width="1.8" fill="none"/>
<path d="M1147.7,218.6 L1185.4,240.4" stroke-width="1.8" fill="none"/>
<ellipse cx="1193.3" cy="226.7" rx="9.1" ry="15.8" stroke-width="1.4" fill="#fff" transform="rotate(30 1193.3 226.7)"/>
<ellipse cx="1193.3" cy="226.7" rx="5.5" ry="9.5" stroke-width="1.3" fill="#fff" transform="rotate(30 1193.3 226.7)"/>
<ellipse cx="1193.3" cy="226.7" rx="5.5" ry="9.5" stroke-width="1.3" fill="#fff" transform="rotate(30 1193.3 226.7)"/>
<clipPath id="c426"><ellipse cx="1193.3" cy="226.7" rx="5.5" ry="9.5" transform="rotate(30 1193.3 226.7)"/></clipPath>
<g clip-path="url(#c426)"><ellipse cx="1195.9" cy="228.2" rx="5.5" ry="9.5" stroke-width="1.8" fill="none" transform="rotate(30 1195.9 228.2)"/></g>
<path d="M1193.3,226.7 L1218.3,241" stroke-width="0.9" fill="none"/>
<path d="M1218.3,296.7 L1218.3,244.2 L1252.5,170 L1265.8,162.5 L1283.3,172.5 L1283.3,260 L1226,300 Z" stroke="none" fill="#fff"/>
<path d="M1218.3,296.7 L1218.3,244.2 L1252.5,170 L1265.8,162.5 L1283.3,172.5 L1283.3,258.5" stroke-width="2" fill="none"/>
<path d="M1252.5,170 L1259.2,174.2 L1273.3,166.7" stroke-width="1.1" fill="none"/>
<path d="M1259.2,174.2 L1226.7,249.2 L1226.7,292" stroke-width="1.1" fill="none"/>
<path d="M1218.3,244.2 L1226.7,249.2" stroke-width="1.1" fill="none"/>
<ellipse cx="1268.8" cy="185.8" rx="5.2" ry="9" stroke-width="2" fill="#fff" transform="rotate(30 1268.8 185.8)"/>
<ellipse cx="1238.3" cy="250.8" rx="4" ry="7" stroke-width="2" fill="#fff" transform="rotate(30 1238.3 250.8)"/>
<path d="M1200.5,307 L1289,255.2 L1293,258.5 L1358.3,557.6 L1351.5,595.7 L1202.8,680 L1189.7,666.4 L1185.8,325 Z" stroke-width="2" fill="#fff"/>
<path d="M1200.5,307 L1203,680" stroke-width="1.1" fill="none"/>
<path d="M1189.7,640.5 L1203.3,654.1 L1355.6,560.3" stroke-width="1.1" fill="none"/>
<ellipse cx="1213.7" cy="661" rx="2.7" ry="4.6" stroke-width="1.1" fill="none" transform="rotate(30 1213.7 661)"/>
<ellipse cx="1259.6" cy="634.5" rx="2.7" ry="4.6" stroke-width="1.1" fill="none" transform="rotate(30 1259.6 634.5)"/>
<ellipse cx="1332.5" cy="592.4" rx="2.7" ry="4.6" stroke-width="1.1" fill="none" transform="rotate(30 1332.5 592.4)"/>
<path d="M1241.2,252.5 L1316,296.6" stroke-width="6" fill="none" stroke="#fff" stroke-linecap="butt"/>
<path d="M1252,259.7 L1316,296.6" stroke-width="9" fill="none" stroke="#fff" stroke-linecap="butt"/>
<path d="M1238.3,250.8 L1321,299.5" stroke-width="0.9" fill="none"/>
<ellipse cx="1322.4" cy="301.4" rx="3.8" ry="6.6" stroke-width="1.4" fill="#fff" transform="rotate(30 1322.4 301.4)"/>
<path d="M1325.7,295.7 L1389.7,331.6 L1383.1,343 L1319.1,307.1 Z" stroke="none" fill="#fff"/>
<path d="M1325.7,295.7 L1389.7,331.6" stroke-width="1.4" fill="none"/>
<path d="M1319.1,307.1 L1383.1,343" stroke-width="1.4" fill="none"/>
<ellipse cx="1386.4" cy="337.3" rx="3.8" ry="6.6" stroke-width="1.4" fill="#fff" transform="rotate(30 1386.4 337.3)"/>
<path d="M1326.7,296.3 L1325.8,299.6" stroke-width="1" fill="none"/>
<path d="M1320.1,307.7 L1320.4,304.1" stroke-width="1" fill="none"/>
<path d="M1329,297.6 L1328.1,300.9" stroke-width="1" fill="none"/>
<path d="M1322.4,309 L1322.7,305.4" stroke-width="1" fill="none"/>
<path d="M1331.4,299 L1330.5,302.3" stroke-width="1" fill="none"/>
<path d="M1324.8,310.4 L1325.1,306.8" stroke-width="1" fill="none"/>
<path d="M1333.7,300.3 L1332.8,303.6" stroke-width="1" fill="none"/>
<path d="M1327.1,311.7 L1327.4,308.1" stroke-width="1" fill="none"/>
<path d="M1336,301.6 L1335.1,304.9" stroke-width="1" fill="none"/>
<path d="M1329.4,313 L1329.7,309.4" stroke-width="1" fill="none"/>
<path d="M1338.3,303 L1337.4,306.3" stroke-width="1" fill="none"/>
<path d="M1331.7,314.4 L1332,310.8" stroke-width="1" fill="none"/>
<path d="M1340.6,304.3 L1339.7,307.6" stroke-width="1" fill="none"/>
<path d="M1334,315.7 L1334.3,312.1" stroke-width="1" fill="none"/>
<path d="M1342.9,305.6 L1342,308.9" stroke-width="1" fill="none"/>
<path d="M1336.3,317 L1336.6,313.4" stroke-width="1" fill="none"/>
<path d="M1345.2,307 L1344.3,310.3" stroke-width="1" fill="none"/>
<path d="M1338.6,318.4 L1338.9,314.8" stroke-width="1" fill="none"/>
<path d="M1395.3,332.2 L1390.9,325.8 L1381.9,331 L1377.5,342.4 L1381.9,348.8 L1390.9,343.6 Z" stroke-width="1.4" fill="#fff"/>
<path d="M1390.9,325.8 L1381.9,331 L1386.7,333.7 L1395.6,328.6 Z" stroke-width="1.4" fill="#fff"/>
<path d="M1381.9,331 L1377.5,342.4 L1382.2,345.2 L1386.7,333.7 Z" stroke-width="1.4" fill="#fff"/>
<path d="M1377.5,342.4 L1381.9,348.8 L1386.7,351.5 L1382.2,345.2 Z" stroke-width="1.4" fill="#fff"/>
<path d="M1400.1,334.9 L1395.6,328.6 L1386.7,333.7 L1382.2,345.2 L1386.7,351.5 L1395.6,346.4 Z" stroke-width="1.4" fill="#fff"/>
<ellipse cx="523" cy="512" rx="5.4" ry="9.3" stroke-width="1.3" fill="#fff" transform="rotate(30 523 512)"/>
<path d="M527.6,503.9 L611.6,549.9 L602.4,566.1 L518.4,520.1 Z" stroke="none" fill="#fff"/>
<path d="M527.6,503.9 L611.6,549.9" stroke-width="1.3" fill="none"/>
<path d="M518.4,520.1 L602.4,566.1" stroke-width="1.3" fill="none"/>
<ellipse cx="607" cy="558" rx="5.4" ry="9.3" stroke-width="1.3" fill="#fff" transform="rotate(30 607 558)"/>
<ellipse cx="607" cy="558" rx="4" ry="7" stroke-width="0.9" fill="none" transform="rotate(30 607 558)"/>
<ellipse cx="526.6" cy="506.6" rx="3.2" ry="1.8" stroke-width="0.9" fill="none"/>
<ellipse cx="599.6" cy="548.8" rx="3.2" ry="1.8" stroke-width="0.9" fill="none"/>
<ellipse cx="1200" cy="902.4" rx="5.4" ry="9.3" stroke-width="1.3" fill="#fff" transform="rotate(30 1200 902.4)"/>
<path d="M1204.7,894.3 L1288.7,939.9 L1279.3,956.1 L1195.3,910.5 Z" stroke="none" fill="#fff"/>
<path d="M1204.7,894.3 L1288.7,939.9" stroke-width="1.3" fill="none"/>
<path d="M1195.3,910.5 L1279.3,956.1" stroke-width="1.3" fill="none"/>
<ellipse cx="1284" cy="948" rx="5.4" ry="9.3" stroke-width="1.3" fill="#fff" transform="rotate(30 1284 948)"/>
<ellipse cx="1284" cy="948" rx="4" ry="7" stroke-width="0.9" fill="none" transform="rotate(30 1284 948)"/>
<ellipse cx="1204" cy="897.2" rx="3.2" ry="1.8" stroke-width="0.9" fill="none"/>
<ellipse cx="1278" cy="940.2" rx="3.2" ry="1.8" stroke-width="0.9" fill="none"/>
<path d="M526.6,496 L526.6,506" stroke-width="0.9" fill="none"/>
<ellipse cx="526.6" cy="495" rx="3.1" ry="1.8" stroke-width="1.1" fill="#fff"/>
<path d="M523.5,464.5 L529.7,464.5 L529.7,495 L523.5,495 Z" stroke="none" fill="#fff"/>
<path d="M523.5,464.5 L523.5,495" stroke-width="1.1" fill="none"/>
<path d="M529.7,464.5 L529.7,495" stroke-width="1.1" fill="none"/>
<ellipse cx="526.6" cy="464.5" rx="3.1" ry="1.8" stroke-width="1.1" fill="#fff"/>
<path d="M1278,930 L1278,940" stroke-width="0.9" fill="none"/>
<ellipse cx="1278" cy="929" rx="3.1" ry="1.8" stroke-width="1.1" fill="#fff"/>
<path d="M1274.9,897.5 L1281.1,897.5 L1281.1,929 L1274.9,929 Z" stroke="none" fill="#fff"/>
<path d="M1274.9,897.5 L1274.9,929" stroke-width="1.1" fill="none"/>
<path d="M1281.1,897.5 L1281.1,929" stroke-width="1.1" fill="none"/>
<ellipse cx="1278" cy="897.5" rx="3.1" ry="1.8" stroke-width="1.1" fill="#fff"/>
<path d="M600,534 L600,547" stroke-width="0.9" fill="none"/>
<g transform="translate(0 0)">
<path d="M596,484 C589,481 588.5,474 592,467 C596,459 604,453.5 612,453.3 C619,453 622,459 621,466 C620,474 616,482 610,487.5" stroke-width="1.3" fill="none"/>
<path d="M598.3,482.3 C592.8,480 592.3,474.5 595,468 C598.5,461 605,456.2 611.5,456 C616.5,455.8 618.6,460 617.8,466 C617,473 614,480 609,484.5" stroke-width="1.3" fill="none"/>
</g>
<path d="M594.7,496 L605.3,496 L605.3,528 L603.5,531.5 L596.5,531.5 L594.7,528 Z" stroke="none" fill="#fff"/>
<path d="M594.7,496 L594.7,528 L596.5,531.2" stroke-width="1.3" fill="none"/>
<path d="M605.3,496 L605.3,528 L603.5,531.2" stroke-width="1.3" fill="none"/>
<path d="M594.7,528 Q600,531 605.3,528" stroke-width="0.9" fill="none"/>
<path d="M596.5,531.2 Q600,534 603.5,531.2" stroke-width="1.1" fill="none"/>
<path d="M594.5,487 L602,483 L610,487.5 L610,494 L603,498.5 L594.5,494.5 Z" stroke-width="1.3" fill="#fff"/>
<path d="M594.5,487 L603,491.5 L610,487.5" stroke-width="1.1" fill="none"/>
<path d="M603,491.5 L603,498.5" stroke-width="1.1" fill="none"/>
<path d="M1204,882.5 L1204,895.5" stroke-width="0.9" fill="none"/>
<g transform="translate(604 348)">
<path d="M596,484 C589,481 588.5,474 592,467 C596,459 604,453.5 612,453.3 C619,453 622,459 621,466 C620,474 616,482 610,487.5" stroke-width="1.3" fill="none"/>
<path d="M598.3,482.3 C592.8,480 592.3,474.5 595,468 C598.5,461 605,456.2 611.5,456 C616.5,455.8 618.6,460 617.8,466 C617,473 614,480 609,484.5" stroke-width="1.3" fill="none"/>
</g>
<path d="M1198.7,844 L1209.3,844 L1209.3,876.5 L1207.5,880 L1200.5,880 L1198.7,876.5 Z" stroke="none" fill="#fff"/>
<path d="M1198.7,844 L1198.7,876.5 L1200.5,879.7" stroke-width="1.3" fill="none"/>
<path d="M1209.3,844 L1209.3,876.5 L1207.5,879.7" stroke-width="1.3" fill="none"/>
<path d="M1198.7,876.5 Q1204,879.5 1209.3,876.5" stroke-width="0.9" fill="none"/>
<path d="M1200.5,879.7 Q1204,882.5 1207.5,879.7" stroke-width="1.1" fill="none"/>
<path d="M1198.5,835 L1206,831 L1214,835.5 L1214,842 L1207,846.5 L1198.5,842.5 Z" stroke-width="1.3" fill="#fff"/>
<path d="M1198.5,835 L1207,839.5 L1214,835.5" stroke-width="1.1" fill="none"/>
<path d="M1207,839.5 L1207,846.5" stroke-width="1.1" fill="none"/>
<ellipse cx="657.5" cy="515.6" rx="3" ry="5.2" stroke-width="1.2" fill="#fff" transform="rotate(30 657.5 515.6)"/>
<path d="M660.1,511.1 L683,523.5 L677.8,532.5 L654.9,520.1 Z" stroke="none" fill="#fff"/>
<path d="M660.1,511.1 L683,523.5" stroke-width="1.2" fill="none"/>
<path d="M654.9,520.1 L677.8,532.5" stroke-width="1.2" fill="none"/>
<ellipse cx="680.4" cy="528" rx="3" ry="5.2" stroke-width="1.2" fill="#fff" transform="rotate(30 680.4 528)"/>
<path d="M681.3,523.3 L680.5,526.2" stroke-width="0.9" fill="none"/>
<path d="M676.1,532.3 L676.3,529.2" stroke-width="0.9" fill="none"/>
<path d="M679.2,522.1 L678.4,525" stroke-width="0.9" fill="none"/>
<path d="M674,531.1 L674.2,528" stroke-width="0.9" fill="none"/>
<path d="M677.1,520.9 L676.3,523.8" stroke-width="0.9" fill="none"/>
<path d="M671.9,529.9 L672.1,526.8" stroke-width="0.9" fill="none"/>
<path d="M675.1,519.7 L674.3,522.6" stroke-width="0.9" fill="none"/>
<path d="M669.9,528.7 L670.1,525.6" stroke-width="0.9" fill="none"/>
<path d="M673,518.5 L672.2,521.4" stroke-width="0.9" fill="none"/>
<path d="M667.8,527.6 L668,524.4" stroke-width="0.9" fill="none"/>
<path d="M670.9,517.4 L670.1,520.2" stroke-width="0.9" fill="none"/>
<path d="M665.7,526.4 L665.9,523.2" stroke-width="0.9" fill="none"/>
<path d="M658.8,506.8 L654,504.1 L647.5,509.8 L645.8,518.4 L650.6,521.1 L657.1,515.4 Z" stroke-width="1.2" fill="#fff"/>
<path d="M654,504.1 L647.5,509.8 L652.7,512.8 L659.2,507.1 Z" stroke-width="1.2" fill="#fff"/>
<path d="M647.5,509.8 L645.8,518.4 L651,521.4 L652.7,512.8 Z" stroke-width="1.2" fill="#fff"/>
<path d="M645.8,518.4 L650.6,521.1 L655.7,524.1 L651,521.4 Z" stroke-width="1.2" fill="#fff"/>
<path d="M664,509.8 L659.2,507.1 L652.7,512.8 L651,521.4 L655.7,524.1 L662.3,518.4 Z" stroke-width="1.2" fill="#fff"/>
<ellipse cx="1447.4" cy="925.5" rx="4.4" ry="2.5" stroke-width="1.1" fill="#fff"/>
<path d="M1443,905 L1451.8,905 L1451.8,925.5 L1443,925.5 Z" stroke="none" fill="#fff"/>
<path d="M1443,905 L1443,925.5" stroke-width="1.1" fill="none"/>
<path d="M1451.8,905 L1451.8,925.5" stroke-width="1.1" fill="none"/>
<ellipse cx="1447.4" cy="905" rx="4.4" ry="2.5" stroke-width="1.1" fill="#fff"/>
<path d="M1443,924.3 Q1447.4,926.5 1451.8,923.8" stroke-width="0.8" fill="none"/>
<path d="M1443,922.1 Q1447.4,924.3 1451.8,921.6" stroke-width="0.8" fill="none"/>
<path d="M1443,919.9 Q1447.4,922.1 1451.8,919.4" stroke-width="0.8" fill="none"/>
<path d="M1443,917.7 Q1447.4,919.9 1451.8,917.2" stroke-width="0.8" fill="none"/>
<path d="M1443,915.5 Q1447.4,917.7 1451.8,915" stroke-width="0.8" fill="none"/>
<path d="M1443,913.3 Q1447.4,915.5 1451.8,912.8" stroke-width="0.8" fill="none"/>
<path d="M1453.6,908.6 L1455.9,903.7 L1449.7,900.1 L1441.2,901.4 L1438.9,906.3 L1445.1,909.9 Z" stroke-width="1.1" fill="#fff"/>
<path d="M1453.6,908.6 L1455.9,903.7 L1455.9,894 L1453.6,898.9 Z" stroke-width="1.1" fill="#fff"/>
<path d="M1438.9,906.3 L1445.1,909.9 L1445.1,900.2 L1438.9,896.6 Z" stroke-width="1.1" fill="#fff"/>
<path d="M1445.1,909.9 L1453.6,908.6 L1453.6,898.9 L1445.1,900.2 Z" stroke-width="1.1" fill="#fff"/>
<path d="M1453.6,898.9 L1455.9,894 L1449.7,890.4 L1441.2,891.7 L1438.9,896.6 L1445.1,900.2 Z" stroke-width="1.1" fill="#fff"/>
<ellipse cx="120.2" cy="146.5" rx="2.9" ry="1.7" stroke-width="1" fill="#fff"/>
<path d="M117.3,136.5 L123.1,136.5 L123.1,146.5 L117.3,146.5 Z" stroke="none" fill="#fff"/>
<path d="M117.3,136.5 L117.3,146.5" stroke-width="1" fill="none"/>
<path d="M123.1,136.5 L123.1,146.5" stroke-width="1" fill="none"/>
<ellipse cx="120.2" cy="136.5" rx="2.9" ry="1.7" stroke-width="1" fill="#fff"/>
<path d="M117.3,145.3 Q120.2,147.5 123.1,144.8" stroke-width="0.8" fill="none"/>
<path d="M117.3,143.1 Q120.2,145.3 123.1,142.6" stroke-width="0.8" fill="none"/>
<path d="M117.3,140.9 Q120.2,143.1 123.1,140.4" stroke-width="0.8" fill="none"/>
<path d="M124.2,138.8 L125.6,135.7 L121.7,133.4 L116.2,134.2 L114.8,137.3 L118.7,139.6 Z" stroke-width="1" fill="#fff"/>
<path d="M124.2,138.8 L125.6,135.7 L125.6,130.8 L124.2,134 Z" stroke-width="1" fill="#fff"/>
<path d="M114.8,137.3 L118.7,139.6 L118.7,134.8 L114.8,132.5 Z" stroke-width="1" fill="#fff"/>
<path d="M118.7,139.6 L124.2,138.8 L124.2,134 L118.7,134.8 Z" stroke-width="1" fill="#fff"/>
<path d="M124.2,134 L125.6,130.8 L121.7,128.5 L116.2,129.3 L114.8,132.5 L118.7,134.8 Z" stroke-width="1" fill="#fff"/>
<ellipse cx="120.3" cy="154.6" rx="4.8" ry="2.8" stroke-width="1" fill="#fff"/>
<ellipse cx="120.3" cy="153.6" rx="4.8" ry="2.8" stroke-width="1" fill="#fff"/>
<ellipse cx="120.3" cy="153.6" rx="2.4" ry="1.4" stroke-width="0.9" fill="none"/>
<path d="M120.3,147.5 L120.3,151.5" stroke-width="0.9" fill="none"/>
<path d="M120.3,157 L120.3,166" stroke-width="0.9" fill="none"/>
<ellipse cx="120.3" cy="169.5" rx="3.2" ry="1.8" stroke-width="1" fill="#fff"/>
<ellipse cx="120.3" cy="169.5" rx="1.6" ry="0.9" stroke-width="0.8" fill="none"/>
<path d="M1395.2,272.4 L1372,306.4" stroke-width="1" fill="none"/>
<path d="M1367.5,313 L1375.2,295.9 L1380.7,299.6 Z" stroke="none" fill="#000"/>
<circle cx="1405.4" cy="257.5" r="18" stroke-width="1.1" fill="#fff"/>
<path d="M2,3.6 L5.6,0 L5.6,18" transform="translate(1401.6 248.5)" stroke-width="1.35" fill="none"/>
<path d="M1309,145.4 L1293.2,163.9" stroke-width="1" fill="none"/>
<path d="M1288,170 L1297.5,153.8 L1302.5,158.1 Z" stroke="none" fill="#000"/>
<circle cx="1320.7" cy="131.7" r="18" stroke-width="1.1" fill="#fff"/>
<path d="M0.9,4.6 C0.9,-1.4 9.3,-1.4 9.3,4.4 C9.3,8.4 3.5,12 0.5,18 L9.6,18" transform="translate(1315.7 122.7)" stroke-width="1.35" fill="none"/>
<path d="M1207.3,147.5 L1184.7,188.5" stroke-width="1" fill="none"/>
<path d="M1180.8,195.5 L1186.8,177.7 L1192.6,180.9 Z" stroke="none" fill="#000"/>
<circle cx="1216" cy="131.7" r="18" stroke-width="1.1" fill="#fff"/>
<path d="M0.9,3.6 C1.8,-1.1 9.1,-1.1 9.1,4.2 C9.1,7.4 6.3,8.5 4,8.5 C6.8,8.5 9.6,9.9 9.6,13.4 C9.6,19.4 1.3,19.4 0.5,14.4" transform="translate(1211 122.7)" stroke-width="1.35" fill="none"/>
<path d="M1134.9,58.8 L1132.7,74.1" stroke-width="1" fill="none"/>
<path d="M1131.6,82 L1130.9,63.2 L1137.5,64.1 Z" stroke="none" fill="#000"/>
<circle cx="1137.4" cy="41" r="18" stroke-width="1.1" fill="#fff"/>
<path d="M7.4,18 L7.4,0 L0.3,12.7 L10,12.7" transform="translate(1132.4 32)" stroke-width="1.35" fill="none"/>
<path d="M1083.6,91.2 L1070.9,131.9" stroke-width="1" fill="none"/>
<path d="M1068.5,139.5 L1070.9,120.9 L1077.2,122.8 Z" stroke="none" fill="#000"/>
<circle cx="1089" cy="74" r="18" stroke-width="1.1" fill="#fff"/>
<path d="M8.9,0 L1.9,0 L1.2,8 C3.2,5.7 9.6,5.6 9.6,11.9 C9.6,19.6 1.5,19.6 0.5,14.6" transform="translate(1084 65)" stroke-width="1.35" fill="none"/>
<path d="M1035.7,70.4 L1045.4,116.7" stroke-width="1" fill="none"/>
<path d="M1047,124.5 L1040,107.1 L1046.4,105.7 Z" stroke="none" fill="#000"/>
<circle cx="1032" cy="52.8" r="18" stroke-width="1.1" fill="#fff"/>
<path d="M8.9,3 C7.6,-1 0.8,-1.2 0.8,9 L0.8,12.4 C0.8,19.8 9.5,19.8 9.5,12.4 C9.5,5.8 1.2,5.8 0.8,12" transform="translate(1027 43.8)" stroke-width="1.35" fill="none"/>
<path d="M1045.1,384.2 L1020,392.6" stroke-width="1" fill="none"/>
<path d="M1012.4,395.2 L1028.9,386.2 L1031,392.4 Z" stroke="none" fill="#000"/>
<circle cx="1062.2" cy="378.4" r="18" stroke-width="1.1" fill="#fff"/>
<path d="M0.3,0 L9.7,0 L4,18" transform="translate(1057.2 369.4)" stroke-width="1.35" fill="none"/>
<path d="M954,429.3 L969.1,404.4" stroke-width="1" fill="none"/>
<path d="M973.3,397.6 L966.5,415.1 L960.9,411.7 Z" stroke="none" fill="#000"/>
<circle cx="944.7" cy="444.7" r="18" stroke-width="1.1" fill="#fff"/>
<path d="M5,0 C0,0 0,8.6 5,8.6 C10,8.6 10,0 5,0 Z M5,8.6 C-1,8.6 -1,18 5,18 C11,18 11,8.6 5,8.6 Z" transform="translate(939.7 435.7)" stroke-width="1.35" fill="none"/>
<path d="M717.7,333.2 L674.8,374.5" stroke-width="1" fill="none"/>
<path d="M669,380 L680.1,364.8 L684.6,369.6 Z" stroke="none" fill="#000"/>
<circle cx="730.7" cy="320.7" r="18" stroke-width="1.1" fill="#fff"/>
<path d="M1.1,15 C2.4,19 9.2,19.2 9.2,9 L9.2,5.6 C9.2,-1.8 0.5,-1.8 0.5,5.6 C0.5,12.2 8.8,12.2 9.2,6" transform="translate(725.7 311.7)" stroke-width="1.35" fill="none"/>
<path d="M519.4,258.8 L489.4,292.1" stroke-width="1" fill="none"/>
<path d="M484,298 L494,282.1 L498.9,286.5 Z" stroke="none" fill="#000"/>
<circle cx="531.5" cy="245.5" r="18" stroke-width="1.1" fill="#fff"/>
<path d="M2,3.6 L5.6,0 L5.6,18" transform="translate(519.1 236.5)" stroke-width="1.35" fill="none"/>
<path d="M5,0 C1.6,0 0.5,4 0.5,9 C0.5,14 1.6,18 5,18 C8.4,18 9.5,14 9.5,9 C9.5,4 8.4,0 5,0 Z" transform="translate(532.3 236.5)" stroke-width="1.35" fill="none"/>
<path d="M1376.2,711.1 L1336,762.1" stroke-width="1" fill="none"/>
<path d="M1331,768.4 L1339.9,751.8 L1345.1,755.9 Z" stroke="none" fill="#000"/>
<circle cx="1387.4" cy="697" r="18" stroke-width="1.1" fill="#fff"/>
<path d="M2,3.6 L5.6,0 L5.6,18" transform="translate(1375 688)" stroke-width="1.35" fill="none"/>
<path d="M5,0 C1.6,0 0.5,4 0.5,9 C0.5,14 1.6,18 5,18 C8.4,18 9.5,14 9.5,9 C9.5,4 8.4,0 5,0 Z" transform="translate(1388.2 688)" stroke-width="1.35" fill="none"/>
<path d="M89.3,86.1 L108.5,117.7" stroke-width="1" fill="none"/>
<path d="M112.7,124.5 L100.3,110.4 L105.9,107 Z" stroke="none" fill="#000"/>
<circle cx="80" cy="70.7" r="18" stroke-width="1.1" fill="#fff"/>
<path d="M2,3.6 L5.6,0 L5.6,18" transform="translate(69.6 61.7)" stroke-width="1.35" fill="none"/>
<path d="M2,3.6 L5.6,0 L5.6,18" transform="translate(82.8 61.7)" stroke-width="1.35" fill="none"/>
<path d="M67.1,136.9 L105.1,149.5" stroke-width="1" fill="none"/>
<path d="M112.7,152 L94.1,149.3 L96.2,143.1 Z" stroke="none" fill="#000"/>
<circle cx="50" cy="131.3" r="18" stroke-width="1.1" fill="#fff"/>
<path d="M2,3.6 L5.6,0 L5.6,18" transform="translate(37.6 122.3)" stroke-width="1.35" fill="none"/>
<path d="M0.9,4.6 C0.9,-1.4 9.3,-1.4 9.3,4.4 C9.3,8.4 3.5,12 0.5,18 L9.6,18" transform="translate(50.8 122.3)" stroke-width="1.35" fill="none"/>
<path d="M474.1,497.8 L502.3,505" stroke-width="1" fill="none"/>
<path d="M510,507 L491.3,505.6 L492.9,499.2 Z" stroke="none" fill="#000"/>
<circle cx="456.7" cy="493.3" r="18" stroke-width="1.1" fill="#fff"/>
<path d="M2,3.6 L5.6,0 L5.6,18" transform="translate(444.3 484.3)" stroke-width="1.35" fill="none"/>
<path d="M0.9,3.6 C1.8,-1.1 9.1,-1.1 9.1,4.2 C9.1,7.4 6.3,8.5 4,8.5 C6.8,8.5 9.6,9.9 9.6,13.4 C9.6,19.4 1.3,19.4 0.5,14.4" transform="translate(457.5 484.3)" stroke-width="1.35" fill="none"/>
<path d="M1353.3,912.6 L1300.3,937" stroke-width="1" fill="none"/>
<path d="M1293,940.4 L1308.4,929.6 L1311.2,935.6 Z" stroke="none" fill="#000"/>
<circle cx="1369.6" cy="905" r="18" stroke-width="1.1" fill="#fff"/>
<path d="M2,3.6 L5.6,0 L5.6,18" transform="translate(1357.2 896)" stroke-width="1.35" fill="none"/>
<path d="M0.9,3.6 C1.8,-1.1 9.1,-1.1 9.1,4.2 C9.1,7.4 6.3,8.5 4,8.5 C6.8,8.5 9.6,9.9 9.6,13.4 C9.6,19.4 1.3,19.4 0.5,14.4" transform="translate(1370.4 896)" stroke-width="1.35" fill="none"/>
<path d="M542.1,423.8 L582.2,461.5" stroke-width="1" fill="none"/>
<path d="M588,467 L572.3,456.7 L576.8,451.9 Z" stroke="none" fill="#000"/>
<circle cx="529" cy="411.5" r="18" stroke-width="1.1" fill="#fff"/>
<path d="M2,3.6 L5.6,0 L5.6,18" transform="translate(516.6 402.5)" stroke-width="1.35" fill="none"/>
<path d="M7.4,18 L7.4,0 L0.3,12.7 L10,12.7" transform="translate(529.8 402.5)" stroke-width="1.35" fill="none"/>
<path d="M1140.8,788.7 L1181.3,814.7" stroke-width="1" fill="none"/>
<path d="M1188,819 L1170.6,811.8 L1174.2,806.2 Z" stroke="none" fill="#000"/>
<circle cx="1125.6" cy="779" r="18" stroke-width="1.1" fill="#fff"/>
<path d="M2,3.6 L5.6,0 L5.6,18" transform="translate(1113.2 770)" stroke-width="1.35" fill="none"/>
<path d="M7.4,18 L7.4,0 L0.3,12.7 L10,12.7" transform="translate(1126.4 770)" stroke-width="1.35" fill="none"/>
<path d="M826.8,603.8 L694,528.4" stroke-width="1" fill="none"/>
<path d="M687,524.5 L704.7,530.8 L701.5,536.5 Z" stroke="none" fill="#000"/>
<circle cx="842.5" cy="612.7" r="18" stroke-width="1.1" fill="#fff"/>
<path d="M2,3.6 L5.6,0 L5.6,18" transform="translate(830.1 603.7)" stroke-width="1.35" fill="none"/>
<path d="M8.9,0 L1.9,0 L1.2,8 C3.2,5.7 9.6,5.6 9.6,11.9 C9.6,19.6 1.5,19.6 0.5,14.6" transform="translate(843.3 603.7)" stroke-width="1.35" fill="none"/>
<path d="M489.8,1011.6 L532.6,940.2" stroke-width="1" fill="none"/>
<path d="M536.7,933.3 L530,950.9 L524.4,947.5 Z" stroke="none" fill="#000"/>
<circle cx="480.5" cy="1027" r="18" stroke-width="1.1" fill="#fff"/>
<path d="M2,3.6 L5.6,0 L5.6,18" transform="translate(468.1 1018)" stroke-width="1.35" fill="none"/>
<path d="M8.9,3 C7.6,-1 0.8,-1.2 0.8,9 L0.8,12.4 C0.8,19.8 9.5,19.8 9.5,12.4 C9.5,5.8 1.2,5.8 0.8,12" transform="translate(481.3 1018)" stroke-width="1.35" fill="none"/>
<path d="M1097.5,1361.9 L1181.2,1423.3" stroke-width="1" fill="none"/>
<path d="M1187.6,1428 L1170.7,1419.7 L1174.6,1414.4 Z" stroke="none" fill="#000"/>
<circle cx="1083" cy="1351.2" r="18" stroke-width="1.1" fill="#fff"/>
<path d="M2,3.6 L5.6,0 L5.6,18" transform="translate(1070.6 1342.2)" stroke-width="1.35" fill="none"/>
<path d="M0.3,0 L9.7,0 L4,18" transform="translate(1083.8 1342.2)" stroke-width="1.35" fill="none"/>
<path d="M1046.3,1423 L1106.9,1443.3" stroke-width="1" fill="none"/>
<path d="M1114.5,1445.8 L1095.9,1443.1 L1098,1436.8 Z" stroke="none" fill="#000"/>
<circle cx="1029.2" cy="1417.3" r="18" stroke-width="1.1" fill="#fff"/>
<path d="M2,3.6 L5.6,0 L5.6,18" transform="translate(1016.8 1408.3)" stroke-width="1.35" fill="none"/>
<path d="M5,0 C0,0 0,8.6 5,8.6 C10,8.6 10,0 5,0 Z M5,8.6 C-1,8.6 -1,18 5,18 C11,18 11,8.6 5,8.6 Z" transform="translate(1030 1408.3)" stroke-width="1.35" fill="none"/>
<path d="M1046.8,1560.2 L1105.5,1574.1" stroke-width="1" fill="none"/>
<path d="M1113.3,1576 L1094.5,1574.9 L1096.1,1568.5 Z" stroke="none" fill="#000"/>
<circle cx="1029.3" cy="1556" r="18" stroke-width="1.1" fill="#fff"/>
<path d="M2,3.6 L5.6,0 L5.6,18" transform="translate(1016.9 1547)" stroke-width="1.35" fill="none"/>
<path d="M5,0 C0,0 0,8.6 5,8.6 C10,8.6 10,0 5,0 Z M5,8.6 C-1,8.6 -1,18 5,18 C11,18 11,8.6 5,8.6 Z" transform="translate(1030.1 1547)" stroke-width="1.35" fill="none"/>
<path d="M1393.2,1652.2 L1437.4,1578.2" stroke-width="1" fill="none"/>
<path d="M1441.5,1571.3 L1434.9,1588.9 L1429.2,1585.5 Z" stroke="none" fill="#000"/>
<circle cx="1384" cy="1667.7" r="18" stroke-width="1.1" fill="#fff"/>
<path d="M2,3.6 L5.6,0 L5.6,18" transform="translate(1371.6 1658.7)" stroke-width="1.35" fill="none"/>
<path d="M1.1,15 C2.4,19 9.2,19.2 9.2,9 L9.2,5.6 C9.2,-1.8 0.5,-1.8 0.5,5.6 C0.5,12.2 8.8,12.2 9.2,6" transform="translate(1384.8 1658.7)" stroke-width="1.35" fill="none"/>
<path d="M1451,832.4 L1451,880" stroke-width="1" fill="none"/>
<path d="M1451,888 L1447.7,869.5 L1454.3,869.5 Z" stroke="none" fill="#000"/>
<circle cx="1451" cy="814.4" r="18" stroke-width="1.1" fill="#fff"/>
<path d="M0.9,4.6 C0.9,-1.4 9.3,-1.4 9.3,4.4 C9.3,8.4 3.5,12 0.5,18 L9.6,18" transform="translate(1439.3 805.4)" stroke-width="1.35" fill="none"/>
<path d="M5,0 C1.6,0 0.5,4 0.5,9 C0.5,14 1.6,18 5,18 C8.4,18 9.5,14 9.5,9 C9.5,4 8.4,0 5,0 Z" transform="translate(1452.5 805.4)" stroke-width="1.35" fill="none"/>
<g style="mix-blend-mode:multiply" stroke="none"><text x="494" y="1055" font-family="Liberation Sans, sans-serif" font-size="46" font-weight="bold" textLength="515" lengthAdjust="spacing" fill="#ececec" stroke="#ececec" stroke-width="2.2">LEADVENTURE</text><g fill="#f3f3f3"><path d="M729,783 C726,800 733,812 745,826 C760,842 780,850 779,868 C778,878 772,880 770,874 C768,860 755,850 748,838 C752,852 750,866 742,876 L730,876 C722,866 718,850 722,838 C714,842 712,856 716,868 C708,858 708,836 718,824 C726,814 728,800 729,783 Z"/><path d="M707,919 L724,914 L751,960 L762,940 L772,946 L751,993 Z"/><path d="M758,898 L802,898 L768,968 L760,952 L780,912 L764,912 Z"/></g></g>
<text x="600" y="1829" font-family="Liberation Sans, sans-serif" font-size="27" fill="#111" stroke="none" textLength="300" lengthAdjust="spacingAndGlyphs">Rendered by LeadVenture, Inc.</text>
</svg>
</body></html>
